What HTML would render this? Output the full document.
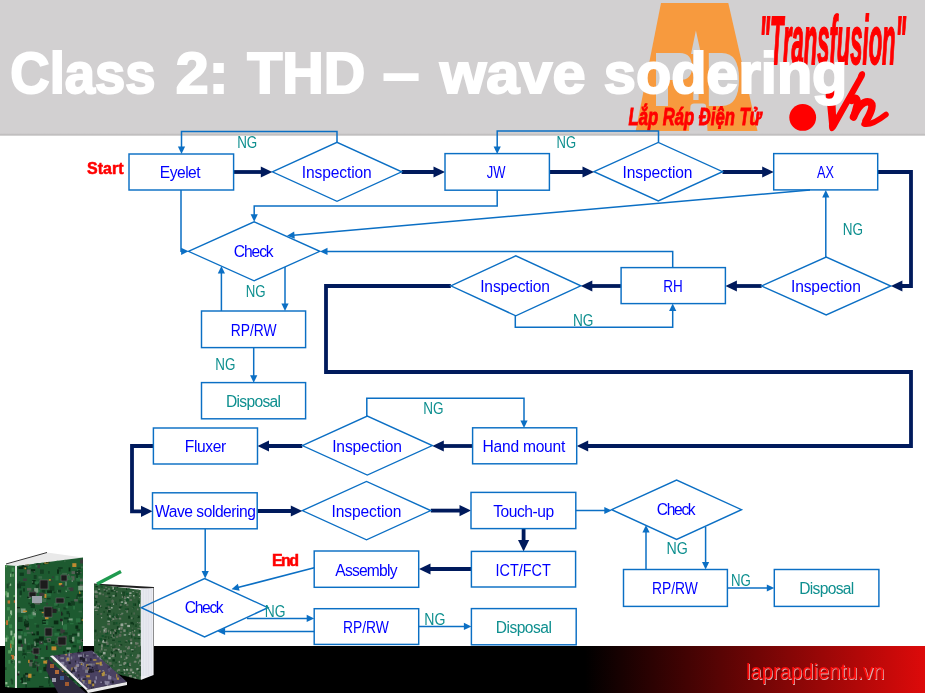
<!DOCTYPE html>
<html><head><meta charset="utf-8"><style>
html,body{margin:0;padding:0;background:#fff;}
body{width:925px;height:693px;position:relative;overflow:hidden;font-family:"Liberation Sans",sans-serif;}
svg{position:absolute;left:0;top:0;will-change:transform;}
svg text{font-family:"Liberation Sans",sans-serif;}
</style></head><body>
<svg width="925" height="693" viewBox="0 0 925 693">
<defs>
<linearGradient id="hb" x1="0" y1="0" x2="0" y2="1">
<stop offset="0" stop-color="#c9c7c8"/><stop offset="0.5" stop-color="#bdbbbb"/><stop offset="1" stop-color="#ffffff"/>
</linearGradient>
<linearGradient id="bb" x1="0" y1="0" x2="1" y2="0">
<stop offset="0" stop-color="#000"/><stop offset="0.6324" stop-color="#000"/><stop offset="1" stop-color="#dd0a0a"/>
</linearGradient>
</defs>

<rect x="0" y="0" width="925" height="134" fill="#d2d0d1"/>
<rect x="0" y="133.5" width="925" height="3" fill="url(#hb)"/>
<g id="logo">
<polygon points="661,3 728.3,3 757.5,131 635.7,131" fill="#f79a3e"/>
<polygon points="695.9,30.5 701,54 698.6,54 698.6,100 693.3,100 693.3,54 691,54" fill="#d0cfd0"/>
<path d="M656,53 L680,53 Q692,53 692,67 Q692,80 680,80 L668,80 L668,106 L656,106 Z" fill="#d0cfd0"/>
<path d="M689,131 L690.5,106 Q691,103.5 694,103.5 L703,103.5 Q706,103.5 706,106 L707.5,131 Z" fill="#d0cfd0"/>
<path d="M708.8,53 L722,53 Q739,53 739,79 Q739,106 722,106 L708.8,106 Z" fill="#d0cfd0"/>
<text x="628.5" y="124.5" fill="#ff0000" stroke="#ff0000" stroke-width="0.9" font-size="24" font-weight="bold" font-style="italic" textLength="133" lengthAdjust="spacingAndGlyphs">Lắp Ráp Điện Tử</text>
<g transform="translate(0,63.8) scale(1,1.11) translate(0,-63.8)"><text x="759.5" y="63.8" fill="#ff0000" stroke="#ff0000" stroke-width="1.6" font-size="62" font-weight="bold" font-style="italic" textLength="146.5" lengthAdjust="spacingAndGlyphs">"Transfusion"</text></g>
<circle cx="802.7" cy="117.4" r="13.4" fill="#ff0000"/>
<path d="M825,90 L835,90 L836,115 L857.5,77 Q859,71 862.5,71 Q866.5,72 864.5,77 L836.5,127 Q834,132 830.5,131 Q828.5,129 829,124 L827,103 Z" fill="#ff0000"/>
<path d="M851.5,101 C853,96.5 858,96.5 857.5,102 L853.5,117" fill="none" stroke="#ff0000" stroke-width="6.5" stroke-linecap="round"/>
<path d="M853.5,117 C858,106 864,100.5 869.5,102 C874,104 872,111 866,121" fill="none" stroke="#ff0000" stroke-width="7.5" stroke-linecap="round"/>
<path d="M864,124 C870,125.5 879,120 886,114.5" fill="none" stroke="#ff0000" stroke-width="5.5" stroke-linecap="round"/>
</g>

<text x="82.95" y="92.90" fill="#ffffff" font-size="57" text-anchor="middle" font-weight="bold" font-style="normal" stroke="#ffffff" stroke-width="2" textLength="145.20" lengthAdjust="spacingAndGlyphs">Class</text>
<text x="202.10" y="92.90" fill="#ffffff" font-size="57" text-anchor="middle" font-weight="bold" font-style="normal" stroke="#ffffff" stroke-width="2" textLength="52.50" lengthAdjust="spacingAndGlyphs">2:</text>
<text x="306.25" y="92.90" fill="#ffffff" font-size="57" text-anchor="middle" font-weight="bold" font-style="normal" stroke="#ffffff" stroke-width="2" textLength="118.20" lengthAdjust="spacingAndGlyphs">THD</text>
<text x="401.00" y="92.90" fill="#ffffff" font-size="57" text-anchor="middle" font-weight="bold" font-style="normal" stroke="#ffffff" stroke-width="2" textLength="36.70" lengthAdjust="spacingAndGlyphs">–</text>
<text x="512.75" y="92.90" fill="#ffffff" font-size="57" text-anchor="middle" font-weight="bold" font-style="normal" stroke="#ffffff" stroke-width="2" textLength="145.60" lengthAdjust="spacingAndGlyphs">wave</text>
<text x="725.60" y="92.90" fill="#ffffff" font-size="57" text-anchor="middle" font-weight="bold" font-style="normal" stroke="#ffffff" stroke-width="2" textLength="243.50" lengthAdjust="spacingAndGlyphs">sodering</text>


<rect x="0" y="646" width="925" height="47" fill="url(#bb)"/><g id="photo">
<defs>
<clipPath id="cbig"><polygon points="17,566 83,557.5 83,687 17,688"/></clipPath>
<clipPath id="cb2"><polygon points="94,584 140.7,590 140.7,680 94,668"/></clipPath>
<clipPath id="cpur"><polygon points="50,656 92,650.5 127,682 86,690"/></clipPath>
<clipPath id="cspine"><polygon points="5,565 17,566 17,688 5,687"/></clipPath>
</defs>
<polygon points="5,565 47,552.5 83,557.5 17,566" fill="#e9e9e9" />
<polyline points="6,564 47,552.5" stroke="#333" stroke-width="1" fill="none"/>
<polygon points="5,565 17,566 17,688 5,687" fill="#2a6b3a" />
<g clip-path="url(#cspine)">
<rect x="8.9" y="583.6" width="2.3" height="2.2" fill="#8fb890"/>
<rect x="6.1" y="636.7" width="2.8" height="2.6" fill="#3e8a4e"/>
<rect x="10.2" y="573.6" width="1.2" height="3.3" fill="#8fb890"/>
<rect x="6.5" y="592.5" width="2.3" height="4.8" fill="#8fb890"/>
<rect x="12.0" y="571.1" width="1.4" height="3.7" fill="#1b4a28"/>
<rect x="8.5" y="582.7" width="1.2" height="2.9" fill="#1b4a28"/>
<rect x="6.2" y="635.3" width="1.4" height="2.3" fill="#3e8a4e"/>
<rect x="11.8" y="641.1" width="2.0" height="3.6" fill="#5aa05e"/>
<rect x="10.6" y="678.6" width="1.7" height="2.7" fill="#1b4a28"/>
<rect x="13.4" y="595.0" width="2.1" height="3.6" fill="#5aa05e"/>
<rect x="13.8" y="600.4" width="3.0" height="2.4" fill="#c07030"/>
<rect x="7.0" y="607.1" width="2.9" height="3.3" fill="#3e8a4e"/>
<rect x="14.2" y="635.5" width="2.8" height="2.9" fill="#5aa05e"/>
<rect x="12.1" y="636.3" width="1.9" height="4.5" fill="#5aa05e"/>
<rect x="10.7" y="646.7" width="1.1" height="4.1" fill="#8fb890"/>
<rect x="16.9" y="666.1" width="1.6" height="3.2" fill="#5aa05e"/>
<rect x="5.3" y="621.8" width="1.3" height="2.4" fill="#3e8a4e"/>
<rect x="7.6" y="600.4" width="2.5" height="3.2" fill="#c07030"/>
<rect x="6.0" y="620.3" width="2.1" height="4.7" fill="#c07030"/>
<rect x="15.4" y="599.2" width="1.8" height="3.1" fill="#c07030"/>
<rect x="16.5" y="583.6" width="1.4" height="2.7" fill="#1b4a28"/>
<rect x="5.1" y="667.2" width="1.4" height="2.8" fill="#1b4a28"/>
<rect x="10.0" y="610.4" width="2.1" height="4.9" fill="#8fb890"/>
<rect x="16.4" y="645.6" width="2.5" height="3.4" fill="#8fb890"/>
<rect x="9.7" y="614.1" width="1.2" height="3.9" fill="#3e8a4e"/>
<rect x="7.3" y="686.1" width="1.9" height="2.3" fill="#8fb890"/>
<rect x="5.6" y="565.0" width="1.3" height="2.3" fill="#5aa05e"/>
<rect x="12.4" y="573.6" width="1.4" height="3.1" fill="#5aa05e"/>
<rect x="16.5" y="639.1" width="1.9" height="2.3" fill="#c07030"/>
<rect x="16.9" y="622.3" width="2.0" height="2.3" fill="#3e8a4e"/>
<rect x="14.0" y="656.1" width="2.0" height="4.1" fill="#8fb890"/>
<rect x="5.3" y="682.0" width="2.1" height="2.4" fill="#8fb890"/>
<rect x="16.0" y="658.3" width="1.6" height="3.9" fill="#3e8a4e"/>
<rect x="13.4" y="597.1" width="1.7" height="2.5" fill="#1b4a28"/>
<rect x="11.4" y="660.8" width="1.7" height="2.7" fill="#1b4a28"/>
<rect x="14.7" y="665.7" width="2.5" height="2.7" fill="#8fb890"/>
<rect x="10.9" y="654.9" width="3.0" height="4.4" fill="#c07030"/>
<rect x="8.1" y="650.2" width="2.9" height="3.3" fill="#5aa05e"/>
<rect x="16.5" y="609.9" width="1.4" height="2.7" fill="#1b4a28"/>
<rect x="9.1" y="624.4" width="3.0" height="3.8" fill="#3e8a4e"/>
<rect x="10.8" y="645.3" width="2.6" height="2.3" fill="#3e8a4e"/>
<rect x="15.9" y="661.2" width="2.5" height="3.4" fill="#1b4a28"/>
<rect x="10.2" y="643.2" width="1.2" height="4.8" fill="#c07030"/>
<rect x="10.6" y="656.4" width="1.2" height="2.5" fill="#1b4a28"/>
<rect x="5.3" y="637.7" width="1.9" height="4.0" fill="#8fb890"/>
<rect x="14.9" y="685.6" width="2.3" height="3.1" fill="#8fb890"/>
<rect x="11.6" y="567.6" width="2.6" height="4.2" fill="#3e8a4e"/>
<rect x="11.3" y="679.8" width="1.9" height="4.6" fill="#1b4a28"/>
<rect x="5.3" y="591.2" width="2.0" height="4.3" fill="#5aa05e"/>
<rect x="8.1" y="616.5" width="1.3" height="4.7" fill="#5aa05e"/>
<rect x="15.8" y="646.5" width="2.6" height="3.6" fill="#8fb890"/>
<rect x="6.6" y="583.7" width="2.0" height="4.6" fill="#1b4a28"/>
<rect x="12.3" y="660.5" width="1.3" height="2.4" fill="#8fb890"/>
<rect x="13.7" y="633.4" width="1.7" height="3.6" fill="#8fb890"/>
<rect x="10.8" y="660.5" width="2.8" height="2.2" fill="#1b4a28"/>
<rect x="8.3" y="660.0" width="2.0" height="3.7" fill="#3e8a4e"/>
<rect x="10.3" y="640.3" width="2.0" height="3.5" fill="#5aa05e"/>
<rect x="10.4" y="630.6" width="2.0" height="4.8" fill="#8fb890"/>
<rect x="15.5" y="680.9" width="1.5" height="3.7" fill="#1b4a28"/>
<rect x="15.1" y="581.9" width="1.2" height="3.3" fill="#3e8a4e"/>
</g>
<polygon points="15,566 17.5,566 17.5,688 15,688" fill="#e8ede8" />
<polygon points="17,566 83,557.5 83,687 17,688" fill="#1d5a30" />
<g clip-path="url(#cbig)">
<rect x="61.3" y="613.1" width="1.9" height="2.2" fill="#143f22"/>
<rect x="76.2" y="577.2" width="3.9" height="3.6" fill="#2a7040"/>
<rect x="33.7" y="575.0" width="2.9" height="4.0" fill="#143f22"/>
<rect x="43.3" y="620.8" width="5.0" height="4.3" fill="#2a7040"/>
<rect x="63.6" y="687.2" width="2.6" height="2.7" fill="#222"/>
<rect x="38.0" y="651.6" width="1.1" height="3.2" fill="#143f22"/>
<rect x="63.4" y="607.3" width="3.1" height="2.2" fill="#143f22"/>
<rect x="24.4" y="677.3" width="1.9" height="4.5" fill="#143f22"/>
<rect x="34.5" y="562.2" width="4.1" height="2.1" fill="#2a7040"/>
<rect x="71.1" y="668.3" width="3.7" height="4.8" fill="#0f3a1e"/>
<rect x="26.9" y="677.4" width="3.3" height="3.8" fill="#143f22"/>
<rect x="35.4" y="661.7" width="1.7" height="4.6" fill="#3a3a3a"/>
<rect x="78.9" y="640.1" width="4.2" height="1.3" fill="#3a6a48"/>
<rect x="31.7" y="591.6" width="1.5" height="1.0" fill="#2a7040"/>
<rect x="44.6" y="676.9" width="3.5" height="1.2" fill="#7a9a80"/>
<rect x="32.7" y="571.3" width="1.6" height="1.2" fill="#0a2a14"/>
<rect x="78.5" y="639.4" width="3.1" height="1.8" fill="#143f22"/>
<rect x="50.0" y="580.3" width="2.4" height="1.1" fill="#3a3a3a"/>
<rect x="19.4" y="559.4" width="3.0" height="4.9" fill="#2a7040"/>
<rect x="48.3" y="679.4" width="1.4" height="4.3" fill="#0f3a1e"/>
<rect x="60.3" y="628.5" width="4.6" height="4.9" fill="#3a3a3a"/>
<rect x="62.4" y="685.7" width="2.4" height="4.3" fill="#7a9a80"/>
<rect x="65.1" y="575.3" width="5.0" height="4.9" fill="#3a6a48"/>
<rect x="25.6" y="566.3" width="4.0" height="2.0" fill="#2a7040"/>
<rect x="20.7" y="644.1" width="2.5" height="3.0" fill="#3a3a3a"/>
<rect x="56.5" y="647.7" width="1.2" height="1.7" fill="#3a3a3a"/>
<rect x="46.4" y="591.5" width="4.8" height="4.9" fill="#2a7040"/>
<rect x="38.4" y="561.5" width="4.5" height="1.9" fill="#2a7040"/>
<rect x="17.1" y="607.0" width="2.9" height="3.0" fill="#0a2a14"/>
<rect x="33.4" y="658.7" width="1.4" height="4.3" fill="#2a7040"/>
<rect x="43.4" y="562.5" width="1.1" height="2.2" fill="#0a2a14"/>
<rect x="22.6" y="682.5" width="4.4" height="1.6" fill="#7a9a80"/>
<rect x="68.7" y="635.1" width="4.1" height="3.9" fill="#143f22"/>
<rect x="26.9" y="651.9" width="3.6" height="1.2" fill="#3a6a48"/>
<rect x="64.2" y="624.2" width="2.7" height="3.8" fill="#2a7040"/>
<rect x="26.2" y="625.6" width="3.0" height="4.3" fill="#555f55"/>
<rect x="18.1" y="646.9" width="4.2" height="3.8" fill="#7a9a80"/>
<rect x="59.4" y="568.1" width="1.2" height="3.5" fill="#143f22"/>
<rect x="41.9" y="616.1" width="1.2" height="1.1" fill="#2a7040"/>
<rect x="61.9" y="621.1" width="1.0" height="4.2" fill="#7a9a80"/>
<rect x="78.5" y="674.6" width="1.4" height="3.1" fill="#7a9a80"/>
<rect x="65.6" y="590.0" width="1.3" height="2.1" fill="#7a9a80"/>
<rect x="66.9" y="587.2" width="3.6" height="2.8" fill="#3a6a48"/>
<rect x="42.2" y="619.8" width="3.7" height="4.1" fill="#0a2a14"/>
<rect x="58.8" y="583.0" width="3.4" height="2.3" fill="#c08a30"/>
<rect x="66.1" y="596.9" width="3.3" height="1.0" fill="#0f3a1e"/>
<rect x="49.1" y="684.4" width="1.4" height="1.9" fill="#143f22"/>
<rect x="36.2" y="624.7" width="2.9" height="2.9" fill="#143f22"/>
<rect x="82.6" y="628.9" width="2.2" height="1.3" fill="#143f22"/>
<rect x="18.2" y="617.1" width="4.3" height="4.9" fill="#143f22"/>
<rect x="82.6" y="607.7" width="4.7" height="4.7" fill="#143f22"/>
<rect x="55.4" y="575.6" width="3.1" height="4.8" fill="#2a7040"/>
<rect x="56.8" y="639.7" width="2.1" height="1.5" fill="#222"/>
<rect x="32.3" y="674.6" width="2.9" height="1.1" fill="#0f3a1e"/>
<rect x="79.7" y="646.3" width="2.6" height="3.9" fill="#0f3a1e"/>
<rect x="39.7" y="598.4" width="4.4" height="1.0" fill="#555f55"/>
<rect x="39.3" y="609.2" width="4.8" height="1.8" fill="#0f3a1e"/>
<rect x="76.5" y="595.0" width="2.5" height="2.6" fill="#3a6a48"/>
<rect x="55.9" y="604.3" width="2.7" height="2.1" fill="#0f3a1e"/>
<rect x="35.5" y="563.8" width="3.6" height="3.5" fill="#2a7040"/>
<rect x="33.5" y="591.8" width="3.0" height="1.8" fill="#222"/>
<rect x="68.8" y="613.0" width="1.1" height="4.0" fill="#0f3a1e"/>
<rect x="77.3" y="680.2" width="3.2" height="3.9" fill="#0f3a1e"/>
<rect x="78.6" y="610.8" width="3.5" height="1.6" fill="#3a6a48"/>
<rect x="35.9" y="563.4" width="4.7" height="1.5" fill="#143f22"/>
<rect x="44.4" y="593.9" width="2.0" height="4.0" fill="#c08a30"/>
<rect x="34.2" y="642.9" width="2.2" height="3.2" fill="#0f3a1e"/>
<rect x="24.9" y="641.3" width="1.3" height="3.0" fill="#555f55"/>
<rect x="49.8" y="585.8" width="4.6" height="5.0" fill="#143f22"/>
<rect x="45.2" y="628.8" width="2.0" height="1.7" fill="#2a7040"/>
<rect x="23.0" y="588.3" width="2.0" height="3.3" fill="#0f3a1e"/>
<rect x="66.5" y="611.1" width="2.7" height="3.1" fill="#0f3a1e"/>
<rect x="34.8" y="655.5" width="3.0" height="3.3" fill="#222"/>
<rect x="25.3" y="622.9" width="3.5" height="4.5" fill="#0a2a14"/>
<rect x="23.1" y="674.5" width="2.5" height="3.6" fill="#0f3a1e"/>
<rect x="80.0" y="668.2" width="4.5" height="1.1" fill="#0f3a1e"/>
<rect x="45.1" y="657.0" width="4.2" height="4.9" fill="#143f22"/>
<rect x="17.0" y="608.3" width="4.7" height="4.3" fill="#3a6a48"/>
<rect x="47.9" y="615.8" width="4.1" height="1.9" fill="#2a7040"/>
<rect x="51.5" y="646.4" width="4.8" height="3.9" fill="#c08a30"/>
<rect x="72.9" y="674.2" width="1.3" height="4.1" fill="#0f3a1e"/>
<rect x="68.6" y="587.5" width="4.7" height="3.6" fill="#3a3a3a"/>
<rect x="80.5" y="639.1" width="3.1" height="2.7" fill="#555f55"/>
<rect x="24.4" y="566.2" width="3.1" height="3.3" fill="#0f3a1e"/>
<rect x="34.2" y="660.6" width="1.0" height="3.1" fill="#143f22"/>
<rect x="35.4" y="598.4" width="4.4" height="2.0" fill="#2a7040"/>
<rect x="32.5" y="589.4" width="4.8" height="3.8" fill="#3a3a3a"/>
<rect x="20.7" y="582.4" width="4.5" height="3.6" fill="#143f22"/>
<rect x="34.0" y="644.4" width="4.7" height="1.9" fill="#0f3a1e"/>
<rect x="62.9" y="651.1" width="2.4" height="2.6" fill="#0f3a1e"/>
<rect x="69.6" y="653.8" width="3.0" height="1.8" fill="#0a2a14"/>
<rect x="37.6" y="664.4" width="1.9" height="1.9" fill="#555f55"/>
<rect x="75.7" y="571.3" width="3.5" height="3.4" fill="#0a2a14"/>
<rect x="49.0" y="676.3" width="1.2" height="3.4" fill="#0f3a1e"/>
<rect x="20.6" y="560.1" width="3.4" height="2.7" fill="#7a9a80"/>
<rect x="21.0" y="608.5" width="4.6" height="4.5" fill="#7a9a80"/>
<rect x="24.5" y="567.4" width="1.7" height="1.8" fill="#c08a30"/>
<rect x="78.8" y="654.8" width="1.1" height="3.7" fill="#0f3a1e"/>
<rect x="72.4" y="686.0" width="2.8" height="1.4" fill="#143f22"/>
<rect x="35.5" y="603.0" width="4.8" height="1.5" fill="#555f55"/>
<rect x="30.7" y="603.7" width="4.3" height="4.3" fill="#0f3a1e"/>
<rect x="22.8" y="649.4" width="1.8" height="3.2" fill="#143f22"/>
<rect x="29.7" y="604.7" width="4.6" height="1.1" fill="#0f3a1e"/>
<rect x="33.4" y="638.9" width="2.6" height="2.5" fill="#143f22"/>
<rect x="21.1" y="677.5" width="2.0" height="4.0" fill="#0a2a14"/>
<rect x="39.4" y="592.7" width="4.8" height="3.5" fill="#3a3a3a"/>
<rect x="66.3" y="647.3" width="4.7" height="2.2" fill="#7a9a80"/>
<rect x="66.9" y="677.1" width="3.5" height="4.8" fill="#0f3a1e"/>
<rect x="71.5" y="571.1" width="3.9" height="2.9" fill="#555f55"/>
<rect x="42.5" y="589.9" width="2.7" height="3.0" fill="#143f22"/>
<rect x="29.1" y="662.1" width="4.0" height="4.3" fill="#555f55"/>
<rect x="27.0" y="587.9" width="4.4" height="2.8" fill="#555f55"/>
<rect x="68.6" y="567.4" width="1.8" height="4.0" fill="#0a2a14"/>
<rect x="43.9" y="642.1" width="2.9" height="3.2" fill="#2a7040"/>
<rect x="81.7" y="672.7" width="5.0" height="2.1" fill="#143f22"/>
<rect x="30.8" y="612.2" width="5.0" height="4.9" fill="#2a7040"/>
<rect x="32.5" y="611.6" width="3.5" height="3.7" fill="#7a9a80"/>
<rect x="52.5" y="658.4" width="4.0" height="4.1" fill="#3a3a3a"/>
<rect x="36.4" y="631.3" width="2.5" height="4.0" fill="#0a2a14"/>
<rect x="46.0" y="581.3" width="1.9" height="2.1" fill="#0a2a14"/>
<rect x="29.4" y="565.5" width="2.0" height="2.0" fill="#2a7040"/>
<rect x="32.3" y="662.9" width="3.6" height="5.0" fill="#143f22"/>
<rect x="17.3" y="672.7" width="1.9" height="2.8" fill="#222"/>
<rect x="19.7" y="595.5" width="1.5" height="1.8" fill="#3a6a48"/>
<rect x="55.5" y="678.9" width="2.5" height="4.5" fill="#143f22"/>
<rect x="56.8" y="658.5" width="3.7" height="1.0" fill="#c08a30"/>
<rect x="56.3" y="638.2" width="1.9" height="2.5" fill="#2a7040"/>
<rect x="19.9" y="688.0" width="1.2" height="3.9" fill="#0a2a14"/>
<rect x="70.8" y="664.3" width="2.6" height="2.5" fill="#0a2a14"/>
<rect x="37.6" y="583.6" width="4.2" height="3.2" fill="#143f22"/>
<rect x="43.9" y="661.3" width="3.7" height="1.6" fill="#2a7040"/>
<rect x="23.0" y="578.4" width="3.8" height="2.6" fill="#3a3a3a"/>
<rect x="61.1" y="611.7" width="1.2" height="4.0" fill="#222"/>
<rect x="44.3" y="559.4" width="4.1" height="4.2" fill="#c08a30"/>
<rect x="30.0" y="652.4" width="1.8" height="1.0" fill="#2a7040"/>
<rect x="45.0" y="664.5" width="2.6" height="4.5" fill="#143f22"/>
<rect x="68.0" y="574.0" width="1.2" height="1.6" fill="#555f55"/>
<rect x="77.0" y="568.7" width="3.5" height="2.5" fill="#2a7040"/>
<rect x="28.3" y="602.6" width="1.6" height="1.7" fill="#143f22"/>
<rect x="24.2" y="621.3" width="4.2" height="4.9" fill="#0a2a14"/>
<rect x="36.9" y="666.7" width="1.2" height="4.7" fill="#222"/>
<rect x="20.5" y="678.3" width="2.6" height="4.6" fill="#0a2a14"/>
<rect x="62.4" y="673.7" width="3.6" height="4.4" fill="#0a2a14"/>
<rect x="43.7" y="667.9" width="4.3" height="1.7" fill="#0a2a14"/>
<rect x="19.8" y="679.9" width="1.6" height="2.4" fill="#2a7040"/>
<rect x="33.3" y="652.0" width="4.6" height="1.2" fill="#2a7040"/>
<rect x="72.6" y="645.1" width="3.7" height="2.3" fill="#0f3a1e"/>
<rect x="56.6" y="629.1" width="3.5" height="2.2" fill="#0f3a1e"/>
<rect x="37.3" y="589.7" width="2.6" height="2.5" fill="#2a7040"/>
<rect x="45.9" y="560.1" width="3.5" height="3.0" fill="#0a2a14"/>
<rect x="46.5" y="638.0" width="4.3" height="4.3" fill="#555f55"/>
<rect x="48.2" y="571.0" width="1.5" height="2.7" fill="#143f22"/>
<rect x="70.0" y="623.1" width="3.6" height="1.2" fill="#2a7040"/>
<rect x="22.4" y="653.1" width="4.1" height="3.0" fill="#0f3a1e"/>
<rect x="66.6" y="674.2" width="3.6" height="4.1" fill="#0f3a1e"/>
<rect x="73.6" y="687.5" width="3.9" height="4.3" fill="#0a2a14"/>
<rect x="25.7" y="673.0" width="2.2" height="4.2" fill="#555f55"/>
<rect x="27.9" y="660.3" width="4.7" height="1.3" fill="#222"/>
<rect x="57.3" y="590.0" width="2.3" height="3.5" fill="#3a6a48"/>
<rect x="47.1" y="590.3" width="4.9" height="2.9" fill="#0a2a14"/>
<rect x="34.3" y="623.3" width="2.3" height="1.1" fill="#2a7040"/>
<rect x="43.6" y="640.4" width="2.1" height="2.3" fill="#0f3a1e"/>
<rect x="28.1" y="659.8" width="1.5" height="3.1" fill="#c08a30"/>
<rect x="73.6" y="683.6" width="2.8" height="3.1" fill="#7a9a80"/>
<rect x="75.2" y="570.7" width="5.0" height="3.5" fill="#0f3a1e"/>
<rect x="65.7" y="605.7" width="2.5" height="2.5" fill="#2a7040"/>
<rect x="40.8" y="657.2" width="2.8" height="1.7" fill="#7a9a80"/>
<rect x="80.2" y="595.8" width="3.1" height="2.2" fill="#3a6a48"/>
<rect x="55.7" y="643.9" width="2.3" height="1.0" fill="#0f3a1e"/>
<rect x="31.6" y="595.1" width="3.5" height="2.7" fill="#222"/>
<rect x="76.1" y="574.3" width="1.9" height="3.6" fill="#0f3a1e"/>
<rect x="20.6" y="631.3" width="2.2" height="3.1" fill="#2a7040"/>
<rect x="31.8" y="633.5" width="3.4" height="1.8" fill="#0a2a14"/>
<rect x="71.7" y="577.8" width="1.1" height="4.2" fill="#7a9a80"/>
<rect x="26.9" y="569.6" width="3.6" height="4.5" fill="#555f55"/>
<rect x="34.8" y="663.3" width="4.9" height="1.2" fill="#3a6a48"/>
<rect x="54.1" y="602.9" width="3.6" height="2.8" fill="#2a7040"/>
<rect x="65.4" y="589.6" width="4.6" height="1.2" fill="#2a7040"/>
<rect x="18.7" y="581.3" width="1.6" height="4.6" fill="#143f22"/>
<rect x="17.8" y="629.2" width="4.8" height="1.6" fill="#0a2a14"/>
<rect x="51.2" y="641.2" width="3.6" height="2.7" fill="#0a2a14"/>
<rect x="28.5" y="597.5" width="2.2" height="1.2" fill="#7a9a80"/>
<rect x="68.7" y="650.7" width="1.0" height="4.4" fill="#7a9a80"/>
<rect x="77.2" y="567.5" width="3.6" height="1.7" fill="#143f22"/>
<rect x="34.3" y="641.4" width="1.5" height="4.6" fill="#7a9a80"/>
<rect x="79.2" y="591.5" width="1.2" height="3.5" fill="#c08a30"/>
<rect x="45.8" y="660.3" width="3.1" height="2.1" fill="#c08a30"/>
<rect x="78.3" y="674.1" width="1.3" height="3.0" fill="#2a7040"/>
<rect x="34.2" y="587.9" width="4.0" height="4.8" fill="#7a9a80"/>
<rect x="77.4" y="582.1" width="2.6" height="3.4" fill="#0f3a1e"/>
<rect x="76.9" y="639.6" width="3.8" height="3.7" fill="#2a7040"/>
<rect x="48.0" y="667.0" width="3.8" height="4.4" fill="#0f3a1e"/>
<rect x="80.1" y="587.6" width="4.5" height="4.2" fill="#0f3a1e"/>
<rect x="58.1" y="567.2" width="4.6" height="1.6" fill="#0f3a1e"/>
<rect x="24.4" y="638.5" width="1.6" height="4.9" fill="#7a9a80"/>
<rect x="18.9" y="562.5" width="3.8" height="3.5" fill="#7a9a80"/>
<rect x="21.5" y="563.1" width="4.4" height="4.0" fill="#0a2a14"/>
<rect x="71.0" y="664.4" width="4.6" height="1.3" fill="#3a6a48"/>
<rect x="66.9" y="650.2" width="2.5" height="2.0" fill="#0a2a14"/>
<rect x="24.4" y="561.5" width="4.4" height="4.2" fill="#c08a30"/>
<rect x="22.8" y="655.4" width="3.5" height="2.9" fill="#2a7040"/>
<rect x="23.5" y="656.2" width="1.8" height="2.3" fill="#0f3a1e"/>
<rect x="34.2" y="603.0" width="4.7" height="1.2" fill="#555f55"/>
<rect x="41.3" y="599.0" width="4.9" height="3.0" fill="#3a6a48"/>
<rect x="36.0" y="654.7" width="4.2" height="1.1" fill="#2a7040"/>
<rect x="68.0" y="602.4" width="3.8" height="3.2" fill="#0a2a14"/>
<rect x="64.1" y="665.4" width="3.3" height="2.1" fill="#0f3a1e"/>
<rect x="17.1" y="583.5" width="4.0" height="4.9" fill="#0f3a1e"/>
<rect x="40.0" y="569.5" width="3.8" height="4.3" fill="#143f22"/>
<rect x="56.1" y="682.4" width="3.1" height="3.3" fill="#2a7040"/>
<rect x="35.7" y="585.1" width="3.8" height="3.0" fill="#143f22"/>
<rect x="79.0" y="657.5" width="3.0" height="5.0" fill="#2a7040"/>
<rect x="68.9" y="639.3" width="2.4" height="2.6" fill="#0f3a1e"/>
<rect x="75.9" y="654.6" width="2.7" height="3.6" fill="#222"/>
<rect x="30.6" y="591.5" width="4.6" height="3.0" fill="#0f3a1e"/>
<rect x="81.8" y="639.6" width="4.8" height="1.5" fill="#0a2a14"/>
<rect x="66.8" y="655.6" width="3.6" height="2.4" fill="#222"/>
<rect x="51.4" y="670.7" width="2.8" height="3.2" fill="#222"/>
<rect x="28.2" y="614.5" width="4.1" height="3.3" fill="#2a7040"/>
<rect x="39.0" y="641.2" width="3.8" height="3.0" fill="#3a3a3a"/>
<rect x="36.9" y="649.1" width="4.4" height="1.6" fill="#2a7040"/>
<rect x="81.3" y="651.7" width="3.4" height="2.4" fill="#0a2a14"/>
<rect x="38.7" y="581.8" width="4.9" height="3.9" fill="#143f22"/>
<rect x="27.9" y="643.2" width="1.8" height="1.6" fill="#2a7040"/>
<rect x="69.5" y="653.1" width="2.7" height="1.8" fill="#c08a30"/>
<rect x="77.2" y="593.8" width="4.5" height="2.9" fill="#0f3a1e"/>
<rect x="43.3" y="660.6" width="3.8" height="3.0" fill="#c08a30"/>
<rect x="36.6" y="559.9" width="2.0" height="4.0" fill="#0f3a1e"/>
<rect x="65.9" y="675.9" width="2.7" height="3.3" fill="#7a9a80"/>
<rect x="59.7" y="667.8" width="3.7" height="3.6" fill="#555f55"/>
<rect x="59.4" y="633.5" width="1.9" height="1.7" fill="#143f22"/>
<rect x="47.0" y="598.0" width="3.5" height="1.4" fill="#0f3a1e"/>
<rect x="33.0" y="609.4" width="3.9" height="1.6" fill="#3a6a48"/>
<rect x="45.0" y="616.6" width="3.5" height="2.6" fill="#c08a30"/>
<rect x="60.6" y="671.4" width="4.6" height="2.3" fill="#0f3a1e"/>
<rect x="42.7" y="621.2" width="4.9" height="1.2" fill="#2a7040"/>
<rect x="31.4" y="650.8" width="4.8" height="1.8" fill="#222"/>
<rect x="23.7" y="632.3" width="3.2" height="3.9" fill="#2a7040"/>
<rect x="18.1" y="660.8" width="2.5" height="2.4" fill="#7a9a80"/>
<rect x="79.6" y="584.5" width="3.7" height="2.6" fill="#555f55"/>
<rect x="78.6" y="652.5" width="3.5" height="3.6" fill="#3a3a3a"/>
<rect x="35.1" y="609.4" width="1.1" height="2.7" fill="#0f3a1e"/>
<rect x="58.5" y="645.4" width="3.3" height="1.4" fill="#3a3a3a"/>
<rect x="65.9" y="680.1" width="3.1" height="1.9" fill="#555f55"/>
<rect x="80.4" y="617.5" width="1.7" height="4.7" fill="#143f22"/>
<rect x="70.4" y="640.1" width="2.9" height="3.2" fill="#0a2a14"/>
<rect x="70.8" y="576.2" width="3.7" height="4.3" fill="#555f55"/>
<rect x="70.9" y="618.3" width="2.2" height="3.2" fill="#2a7040"/>
<rect x="68.5" y="618.5" width="4.1" height="1.9" fill="#7a9a80"/>
<rect x="41.8" y="590.2" width="2.7" height="1.7" fill="#0f3a1e"/>
<rect x="70.2" y="661.7" width="2.4" height="3.6" fill="#222"/>
<rect x="48.7" y="613.1" width="3.5" height="3.6" fill="#222"/>
<rect x="27.1" y="596.7" width="2.5" height="1.3" fill="#0a2a14"/>
<rect x="76.8" y="659.7" width="1.6" height="4.3" fill="#c08a30"/>
<rect x="55.4" y="643.1" width="1.8" height="1.3" fill="#3a3a3a"/>
<rect x="33.5" y="570.3" width="1.6" height="1.9" fill="#555f55"/>
<rect x="46.8" y="659.8" width="1.8" height="2.6" fill="#2a7040"/>
<rect x="28.1" y="673.7" width="3.4" height="4.1" fill="#c08a30"/>
<rect x="76.5" y="628.9" width="3.5" height="2.2" fill="#143f22"/>
<rect x="62.7" y="626.5" width="4.0" height="2.8" fill="#143f22"/>
<rect x="53.6" y="591.6" width="1.9" height="1.6" fill="#143f22"/>
<rect x="53.8" y="620.5" width="4.6" height="3.8" fill="#0a2a14"/>
<rect x="49.9" y="627.7" width="4.5" height="1.0" fill="#3a6a48"/>
<rect x="38.2" y="648.2" width="3.0" height="2.2" fill="#143f22"/>
<rect x="41.7" y="611.9" width="4.8" height="1.3" fill="#c08a30"/>
<rect x="40.8" y="641.7" width="1.1" height="1.2" fill="#7a9a80"/>
<rect x="78.5" y="600.3" width="4.9" height="3.0" fill="#143f22"/>
<rect x="67.0" y="575.9" width="1.9" height="2.7" fill="#2a7040"/>
<rect x="39.3" y="669.9" width="2.5" height="2.9" fill="#2a7040"/>
<rect x="53.6" y="676.5" width="2.1" height="2.4" fill="#3a3a3a"/>
<rect x="53.6" y="665.3" width="2.2" height="4.3" fill="#0f3a1e"/>
<rect x="39.0" y="685.9" width="4.5" height="2.4" fill="#0a2a14"/>
<rect x="60.2" y="660.7" width="2.3" height="2.3" fill="#3a3a3a"/>
<rect x="25.4" y="684.4" width="1.4" height="5.0" fill="#0f3a1e"/>
<rect x="64.7" y="673.0" width="3.2" height="1.2" fill="#3a3a3a"/>
<rect x="24.2" y="563.1" width="4.3" height="2.9" fill="#555f55"/>
<rect x="60.4" y="660.4" width="4.6" height="3.4" fill="#0a2a14"/>
<rect x="26.7" y="645.3" width="3.8" height="4.5" fill="#143f22"/>
<rect x="31.0" y="644.4" width="2.8" height="4.1" fill="#143f22"/>
<rect x="60.8" y="670.9" width="2.7" height="1.4" fill="#c08a30"/>
<rect x="17.9" y="671.2" width="1.6" height="2.2" fill="#7a9a80"/>
<rect x="34.0" y="596.6" width="2.7" height="2.3" fill="#0f3a1e"/>
<rect x="54.4" y="632.8" width="4.7" height="3.0" fill="#2a7040"/>
<rect x="19.6" y="572.6" width="4.2" height="3.3" fill="#0f3a1e"/>
<rect x="46.5" y="558.9" width="2.5" height="3.4" fill="#c08a30"/>
<rect x="81.7" y="619.3" width="2.6" height="1.4" fill="#c08a30"/>
<rect x="48.2" y="674.3" width="3.5" height="2.7" fill="#0f3a1e"/>
<rect x="62.1" y="572.9" width="4.9" height="1.4" fill="#3a6a48"/>
<rect x="25.0" y="618.9" width="2.1" height="3.3" fill="#143f22"/>
<rect x="65.4" y="581.6" width="1.2" height="4.1" fill="#7a9a80"/>
<rect x="62.9" y="576.0" width="4.0" height="2.2" fill="#2a7040"/>
<rect x="63.8" y="617.3" width="4.7" height="2.0" fill="#0f3a1e"/>
<rect x="64.3" y="558.5" width="1.1" height="3.6" fill="#3a6a48"/>
<rect x="57.8" y="608.0" width="2.2" height="3.4" fill="#3a6a48"/>
<rect x="72.1" y="636.8" width="2.3" height="4.8" fill="#7a9a80"/>
<rect x="46.0" y="645.7" width="1.6" height="4.2" fill="#222"/>
<rect x="80.0" y="578.5" width="4.2" height="2.9" fill="#555f55"/>
<rect x="68.9" y="680.8" width="4.1" height="3.3" fill="#3a3a3a"/>
<rect x="35.5" y="638.5" width="3.6" height="4.2" fill="#0a2a14"/>
<rect x="38.9" y="636.4" width="4.9" height="4.3" fill="#0a2a14"/>
<rect x="72.0" y="633.6" width="4.9" height="2.0" fill="#0f3a1e"/>
<rect x="62.2" y="635.8" width="4.6" height="4.2" fill="#3a3a3a"/>
<rect x="62.4" y="599.1" width="2.1" height="1.6" fill="#3a6a48"/>
<rect x="67.4" y="659.6" width="2.2" height="1.6" fill="#3a6a48"/>
<rect x="82.5" y="576.3" width="4.9" height="4.2" fill="#2a7040"/>
<rect x="62.2" y="676.7" width="2.4" height="1.3" fill="#2a7040"/>
<rect x="49.0" y="607.0" width="4.2" height="3.9" fill="#0a2a14"/>
<rect x="37.4" y="564.5" width="2.6" height="3.8" fill="#3a3a3a"/>
<rect x="55.7" y="558.2" width="2.5" height="3.2" fill="#2a7040"/>
<rect x="70.2" y="658.2" width="1.9" height="3.3" fill="#3a3a3a"/>
<rect x="75.4" y="625.4" width="2.9" height="3.4" fill="#0a2a14"/>
<rect x="31.0" y="569.1" width="4.2" height="2.2" fill="#0a2a14"/>
<rect x="54.3" y="609.7" width="3.1" height="1.6" fill="#0f3a1e"/>
<rect x="77.9" y="621.6" width="4.5" height="2.5" fill="#143f22"/>
<rect x="69.0" y="577.5" width="3.4" height="2.4" fill="#2a7040"/>
<rect x="57.1" y="569.3" width="1.8" height="4.5" fill="#0a2a14"/>
<rect x="49.1" y="631.3" width="2.0" height="4.1" fill="#0f3a1e"/>
<rect x="23.4" y="615.5" width="3.4" height="3.4" fill="#2a7040"/>
<rect x="33.8" y="562.0" width="1.8" height="1.7" fill="#143f22"/>
<rect x="18.8" y="561.6" width="2.5" height="3.8" fill="#143f22"/>
<rect x="79.5" y="676.2" width="1.3" height="3.4" fill="#0f3a1e"/>
<rect x="77.9" y="649.5" width="1.4" height="2.3" fill="#0a2a14"/>
<rect x="59.3" y="682.3" width="3.7" height="2.6" fill="#143f22"/>
<rect x="73.1" y="605.6" width="1.9" height="3.9" fill="#2a7040"/>
<rect x="19.5" y="590.5" width="2.4" height="4.6" fill="#0f3a1e"/>
<rect x="72.3" y="563.2" width="4.1" height="3.8" fill="#c08a30"/>
<rect x="67.3" y="620.3" width="1.4" height="2.3" fill="#0f3a1e"/>
<rect x="79.0" y="645.7" width="2.2" height="3.4" fill="#555f55"/>
<rect x="60.1" y="618.7" width="2.5" height="2.6" fill="#222"/>
<rect x="48.8" y="579.1" width="2.0" height="1.6" fill="#c08a30"/>
<rect x="75.9" y="618.3" width="4.7" height="4.2" fill="#2a7040"/>
<rect x="78.2" y="585.9" width="4.7" height="4.5" fill="#7a9a80"/>
<rect x="26.2" y="615.6" width="1.4" height="4.7" fill="#3a6a48"/>
<rect x="18.4" y="566.8" width="4.9" height="2.3" fill="#0a2a14"/>
<rect x="48.5" y="639.3" width="1.6" height="1.9" fill="#0f3a1e"/>
<rect x="28.9" y="616.1" width="4.6" height="2.8" fill="#2a7040"/>
<rect x="34.6" y="610.9" width="1.6" height="2.1" fill="#3a6a48"/>
<rect x="36.6" y="662.3" width="2.0" height="1.4" fill="#143f22"/>
<rect x="76.6" y="572.0" width="4.9" height="1.2" fill="#555f55"/>
<rect x="61.1" y="584.7" width="2.9" height="2.1" fill="#3a3a3a"/>
<rect x="66.8" y="684.2" width="2.7" height="2.0" fill="#0a2a14"/>
<rect x="78.1" y="569.8" width="2.2" height="4.6" fill="#0f3a1e"/>
<rect x="71.9" y="685.2" width="1.6" height="3.6" fill="#143f22"/>
<rect x="70.3" y="601.7" width="1.6" height="1.0" fill="#3a6a48"/>
<rect x="79.3" y="594.5" width="2.4" height="1.2" fill="#0f3a1e"/>
<rect x="31.4" y="631.8" width="1.6" height="1.7" fill="#555f55"/>
<rect x="32.2" y="580.0" width="3.4" height="4.3" fill="#0a2a14"/>
<rect x="65.2" y="656.7" width="1.7" height="1.5" fill="#c08a30"/>
<rect x="63.7" y="663.3" width="3.3" height="1.8" fill="#143f22"/>
<rect x="62.7" y="625.1" width="4.4" height="4.7" fill="#2a7040"/>
<rect x="70.5" y="600.9" width="4.4" height="4.5" fill="#143f22"/>
<rect x="23.0" y="610.6" width="4.1" height="1.5" fill="#c08a30"/>
<rect x="34.6" y="581.4" width="4.3" height="2.5" fill="#2a7040"/>
<rect x="63.3" y="632.3" width="4.4" height="2.4" fill="#143f22"/>
<rect x="80.9" y="566.3" width="2.4" height="2.0" fill="#3a6a48"/>
<rect x="74.1" y="599.0" width="3.8" height="2.5" fill="#555f55"/>
<rect x="76.3" y="595.2" width="1.4" height="3.9" fill="#143f22"/>
<rect x="50.9" y="626.5" width="3.1" height="1.1" fill="#143f22"/>
<rect x="31.8" y="580.9" width="1.4" height="2.0" fill="#3a6a48"/>
<rect x="80.1" y="559.5" width="4.7" height="4.0" fill="#3a3a3a"/>
<rect x="18.2" y="635.5" width="3.3" height="3.1" fill="#7a9a80"/>
<rect x="46.3" y="602.9" width="1.4" height="1.7" fill="#3a3a3a"/>
<rect x="25.1" y="621.7" width="3.0" height="2.1" fill="#143f22"/>
<rect x="25.0" y="672.9" width="3.2" height="1.9" fill="#0a2a14"/>
<rect x="26.7" y="632.0" width="4.0" height="1.7" fill="#3a6a48"/>
<rect x="18.2" y="640.2" width="3.8" height="3.4" fill="#0a2a14"/>
<rect x="51.7" y="608.8" width="4.8" height="4.1" fill="#222"/>
<rect x="43.4" y="666.9" width="3.9" height="4.4" fill="#0a2a14"/>
<rect x="70.1" y="676.6" width="4.3" height="4.4" fill="#0f3a1e"/>
<rect x="38.4" y="576.2" width="3.7" height="2.4" fill="#3a6a48"/>
<rect x="44.9" y="639.9" width="2.5" height="3.1" fill="#143f22"/>
<rect x="38.4" y="583.3" width="3.7" height="1.9" fill="#0f3a1e"/>
<rect x="81.0" y="658.7" width="4.7" height="3.5" fill="#555f55"/>
<rect x="81.7" y="684.5" width="1.2" height="4.5" fill="#0a2a14"/>
<rect x="34.5" y="645.9" width="2.1" height="3.2" fill="#0f3a1e"/>
<rect x="58.0" y="589.8" width="3.1" height="2.7" fill="#0f3a1e"/>
<rect x="36.0" y="597.0" width="3.6" height="1.5" fill="#0a2a14"/>
<rect x="80.3" y="677.7" width="4.6" height="1.3" fill="#0a2a14"/>
<rect x="52.2" y="576.4" width="1.5" height="1.5" fill="#3a3a3a"/>
<rect x="77.4" y="632.6" width="2.1" height="3.9" fill="#7a9a80"/>
</g>
<rect x="40" y="580" width="8" height="9" fill="#1c1c1c" stroke="#6a6a6a" stroke-width="0.6"/>
<rect x="29" y="592" width="7" height="5" fill="#1c1c1c" stroke="#6a6a6a" stroke-width="0.6"/>
<rect x="44" y="607" width="8" height="10" fill="#1c1c1c" stroke="#6a6a6a" stroke-width="0.6"/>
<rect x="45" y="628" width="7" height="8" fill="#1c1c1c" stroke="#6a6a6a" stroke-width="0.6"/>
<rect x="58" y="637" width="8" height="8" fill="#1c1c1c" stroke="#6a6a6a" stroke-width="0.6"/>
<rect x="56" y="598" width="8" height="5" fill="#1c1c1c" stroke="#6a6a6a" stroke-width="0.6"/>
<rect x="33" y="648" width="6" height="6" fill="#1c1c1c" stroke="#6a6a6a" stroke-width="0.6"/>
<rect x="61" y="575" width="6" height="6" fill="#1c1c1c" stroke="#6a6a6a" stroke-width="0.6"/>
<rect x="32" y="596" width="10" height="7" fill="#9aa0a8"/>
<polygon points="94,583.5 153.8,587 153.8,589 94,585.5" fill="#202020" />
<polygon points="152.5,587 154,587 154,675 152.5,675.5" fill="#2a2a2a" />
<polygon points="140.7,589 153.5,588 153.5,675 140.7,680" fill="#eeeff4" />
<g stroke="#c8cad8" stroke-width="0.4"><line x1="142.0" y1="589" x2="142.0" y2="676"/><line x1="143.6" y1="589" x2="143.6" y2="676"/><line x1="145.2" y1="589" x2="145.2" y2="676"/><line x1="146.8" y1="589" x2="146.8" y2="676"/><line x1="148.4" y1="589" x2="148.4" y2="676"/><line x1="150.0" y1="589" x2="150.0" y2="676"/><line x1="151.6" y1="589" x2="151.6" y2="676"/></g>
<polygon points="94,584 140.7,590 140.7,680 94,668" fill="#2c5a36" />
<g clip-path="url(#cb2)">
<rect x="119.7" y="664.6" width="2.1" height="2.1" fill="#14502a"/>
<rect x="103.5" y="652.2" width="1.8" height="2.0" fill="#6a7868"/>
<rect x="116.0" y="613.8" width="1.3" height="1.3" fill="#14502a"/>
<rect x="139.6" y="622.1" width="2.8" height="1.2" fill="#9aa89a"/>
<rect x="109.2" y="615.2" width="1.4" height="2.7" fill="#9aa89a"/>
<rect x="107.9" y="658.1" width="1.1" height="0.9" fill="#0f3a1c"/>
<rect x="114.7" y="590.0" width="1.7" height="1.8" fill="#1a4a26"/>
<rect x="118.5" y="679.0" width="2.3" height="2.9" fill="#14502a"/>
<rect x="109.8" y="617.8" width="2.3" height="2.2" fill="#2f5a38"/>
<rect x="132.6" y="633.7" width="2.4" height="2.4" fill="#6a7868"/>
<rect x="106.6" y="644.5" width="2.2" height="2.3" fill="#14502a"/>
<rect x="134.9" y="584.4" width="2.5" height="2.1" fill="#6a7868"/>
<rect x="112.7" y="679.3" width="1.1" height="2.7" fill="#2f5a38"/>
<rect x="135.0" y="642.3" width="1.6" height="1.8" fill="#6a7868"/>
<rect x="107.5" y="617.9" width="1.6" height="2.0" fill="#14502a"/>
<rect x="124.5" y="584.6" width="2.4" height="3.0" fill="#14502a"/>
<rect x="114.9" y="601.7" width="1.5" height="1.1" fill="#14502a"/>
<rect x="121.3" y="592.4" width="2.8" height="1.5" fill="#9aa89a"/>
<rect x="139.1" y="603.6" width="1.7" height="2.8" fill="#7a8a78"/>
<rect x="95.2" y="608.6" width="2.8" height="1.5" fill="#2f5a38"/>
<rect x="119.3" y="679.8" width="1.9" height="1.9" fill="#14502a"/>
<rect x="112.3" y="618.3" width="2.1" height="1.6" fill="#7a8a78"/>
<rect x="125.8" y="634.4" width="1.0" height="1.6" fill="#14502a"/>
<rect x="124.5" y="673.1" width="1.1" height="1.2" fill="#14502a"/>
<rect x="116.9" y="626.3" width="2.2" height="3.0" fill="#0f3a1c"/>
<rect x="126.5" y="655.7" width="1.0" height="1.6" fill="#0f3a1c"/>
<rect x="140.0" y="663.3" width="1.9" height="1.0" fill="#2f5a38"/>
<rect x="126.4" y="662.8" width="3.0" height="2.8" fill="#14502a"/>
<rect x="123.7" y="634.3" width="2.6" height="1.3" fill="#9aa89a"/>
<rect x="113.4" y="589.8" width="2.0" height="1.0" fill="#7a8a78"/>
<rect x="126.5" y="585.0" width="0.8" height="2.4" fill="#7a8a78"/>
<rect x="137.1" y="622.2" width="1.0" height="0.8" fill="#7a8a78"/>
<rect x="103.2" y="631.8" width="2.0" height="1.4" fill="#5a6a58"/>
<rect x="121.0" y="623.5" width="1.1" height="1.1" fill="#1a4a26"/>
<rect x="95.4" y="591.3" width="2.9" height="1.9" fill="#6a7868"/>
<rect x="122.8" y="661.4" width="0.9" height="0.8" fill="#0f3a1c"/>
<rect x="100.8" y="606.9" width="1.4" height="0.9" fill="#1a4a26"/>
<rect x="134.4" y="675.0" width="0.9" height="1.2" fill="#14502a"/>
<rect x="94.9" y="605.1" width="1.7" height="2.5" fill="#7a8a78"/>
<rect x="114.7" y="643.5" width="1.3" height="0.9" fill="#5a6a58"/>
<rect x="108.8" y="670.3" width="2.6" height="1.5" fill="#2f5a38"/>
<rect x="139.1" y="631.6" width="2.9" height="1.3" fill="#14502a"/>
<rect x="125.7" y="640.1" width="1.7" height="1.7" fill="#6a7868"/>
<rect x="95.1" y="667.3" width="1.0" height="1.2" fill="#14502a"/>
<rect x="102.8" y="677.3" width="1.4" height="2.0" fill="#1a4a26"/>
<rect x="109.7" y="667.7" width="1.5" height="2.2" fill="#1a4a26"/>
<rect x="113.8" y="671.6" width="2.0" height="1.7" fill="#6a7868"/>
<rect x="107.3" y="606.8" width="0.9" height="2.3" fill="#0f3a1c"/>
<rect x="131.8" y="607.2" width="1.1" height="1.2" fill="#5a6a58"/>
<rect x="120.1" y="628.8" width="2.5" height="1.3" fill="#0f3a1c"/>
<rect x="110.6" y="653.4" width="1.6" height="2.9" fill="#9aa89a"/>
<rect x="108.0" y="629.7" width="1.2" height="2.7" fill="#5a6a58"/>
<rect x="138.3" y="679.8" width="2.1" height="1.8" fill="#0f3a1c"/>
<rect x="119.1" y="622.8" width="1.9" height="1.1" fill="#1a4a26"/>
<rect x="125.9" y="592.8" width="2.7" height="2.4" fill="#14502a"/>
<rect x="95.3" y="652.9" width="1.1" height="0.8" fill="#1a4a26"/>
<rect x="126.6" y="658.5" width="1.3" height="1.2" fill="#1a4a26"/>
<rect x="97.2" y="671.7" width="2.6" height="2.5" fill="#9aa89a"/>
<rect x="97.1" y="613.9" width="1.3" height="1.1" fill="#14502a"/>
<rect x="107.3" y="622.7" width="2.8" height="2.5" fill="#5a6a58"/>
<rect x="138.0" y="600.9" width="1.6" height="2.6" fill="#0f3a1c"/>
<rect x="136.2" y="586.4" width="2.3" height="1.8" fill="#14502a"/>
<rect x="110.5" y="644.4" width="1.2" height="1.1" fill="#9aa89a"/>
<rect x="127.5" y="587.9" width="0.9" height="1.2" fill="#9aa89a"/>
<rect x="129.6" y="599.0" width="2.4" height="2.0" fill="#5a6a58"/>
<rect x="120.5" y="605.9" width="1.9" height="1.9" fill="#14502a"/>
<rect x="125.5" y="639.2" width="2.9" height="1.0" fill="#2f5a38"/>
<rect x="136.4" y="668.0" width="2.1" height="2.3" fill="#9aa89a"/>
<rect x="126.0" y="587.6" width="1.5" height="2.5" fill="#0f3a1c"/>
<rect x="129.2" y="592.3" width="2.3" height="1.7" fill="#9aa89a"/>
<rect x="107.2" y="592.6" width="2.9" height="1.7" fill="#0f3a1c"/>
<rect x="126.5" y="654.9" width="2.6" height="2.2" fill="#6a7868"/>
<rect x="117.9" y="649.0" width="1.3" height="2.3" fill="#5a6a58"/>
<rect x="117.0" y="602.2" width="2.9" height="2.6" fill="#2f5a38"/>
<rect x="102.2" y="599.7" width="2.5" height="1.3" fill="#2f5a38"/>
<rect x="105.7" y="589.7" width="1.6" height="1.7" fill="#9aa89a"/>
<rect x="123.9" y="597.2" width="2.3" height="1.9" fill="#6a7868"/>
<rect x="105.2" y="607.2" width="1.9" height="1.8" fill="#0f3a1c"/>
<rect x="126.8" y="596.8" width="2.4" height="2.1" fill="#9aa89a"/>
<rect x="109.7" y="662.3" width="2.0" height="2.5" fill="#5a6a58"/>
<rect x="125.8" y="598.9" width="3.0" height="2.6" fill="#14502a"/>
<rect x="133.1" y="595.0" width="1.4" height="1.6" fill="#9aa89a"/>
<rect x="96.0" y="670.0" width="1.5" height="1.0" fill="#2f5a38"/>
<rect x="115.1" y="594.8" width="1.5" height="1.8" fill="#0f3a1c"/>
<rect x="107.6" y="637.5" width="0.9" height="1.8" fill="#6a7868"/>
<rect x="97.9" y="652.8" width="3.0" height="2.0" fill="#1a4a26"/>
<rect x="124.3" y="675.8" width="1.9" height="2.5" fill="#0f3a1c"/>
<rect x="94.4" y="672.3" width="2.2" height="2.2" fill="#2f5a38"/>
<rect x="124.7" y="591.5" width="2.4" height="0.9" fill="#14502a"/>
<rect x="133.5" y="612.4" width="1.2" height="2.2" fill="#5a6a58"/>
<rect x="98.8" y="653.0" width="1.5" height="2.2" fill="#14502a"/>
<rect x="102.7" y="663.2" width="1.5" height="1.6" fill="#0f3a1c"/>
<rect x="133.4" y="608.3" width="0.9" height="1.0" fill="#14502a"/>
<rect x="136.5" y="674.7" width="1.9" height="1.9" fill="#5a6a58"/>
<rect x="140.8" y="641.9" width="2.2" height="1.1" fill="#9aa89a"/>
<rect x="101.7" y="626.5" width="2.9" height="1.0" fill="#7a8a78"/>
<rect x="134.0" y="630.0" width="1.3" height="1.6" fill="#7a8a78"/>
<rect x="133.5" y="666.1" width="2.5" height="1.7" fill="#2f5a38"/>
<rect x="97.4" y="589.3" width="2.4" height="2.8" fill="#1a4a26"/>
<rect x="114.6" y="647.9" width="2.6" height="2.8" fill="#5a6a58"/>
<rect x="111.8" y="584.4" width="2.6" height="2.3" fill="#9aa89a"/>
<rect x="116.0" y="636.1" width="1.9" height="1.7" fill="#5a6a58"/>
<rect x="139.8" y="676.3" width="2.2" height="2.6" fill="#7a8a78"/>
<rect x="128.0" y="615.8" width="2.2" height="2.0" fill="#14502a"/>
<rect x="138.8" y="630.2" width="2.2" height="1.5" fill="#0f3a1c"/>
<rect x="118.9" y="644.8" width="2.7" height="1.3" fill="#6a7868"/>
<rect x="126.5" y="598.1" width="2.1" height="2.0" fill="#14502a"/>
<rect x="110.9" y="607.1" width="1.8" height="1.4" fill="#9aa89a"/>
<rect x="102.5" y="669.4" width="2.0" height="1.0" fill="#2f5a38"/>
<rect x="124.5" y="602.0" width="2.3" height="2.4" fill="#9aa89a"/>
<rect x="120.0" y="605.7" width="2.1" height="1.0" fill="#1a4a26"/>
<rect x="134.0" y="649.2" width="2.6" height="1.1" fill="#1a4a26"/>
<rect x="123.4" y="676.2" width="1.9" height="1.8" fill="#14502a"/>
<rect x="119.6" y="676.9" width="1.2" height="1.8" fill="#1a4a26"/>
<rect x="100.4" y="658.5" width="0.9" height="1.3" fill="#0f3a1c"/>
<rect x="96.0" y="651.4" width="2.9" height="1.8" fill="#1a4a26"/>
<rect x="127.2" y="624.9" width="2.8" height="2.2" fill="#9aa89a"/>
<rect x="120.5" y="672.1" width="2.7" height="1.2" fill="#0f3a1c"/>
<rect x="131.8" y="654.7" width="0.8" height="1.4" fill="#9aa89a"/>
<rect x="111.5" y="654.8" width="2.9" height="2.4" fill="#7a8a78"/>
<rect x="132.4" y="617.9" width="1.6" height="1.5" fill="#1a4a26"/>
<rect x="95.6" y="671.4" width="1.3" height="1.6" fill="#6a7868"/>
<rect x="95.0" y="678.9" width="1.8" height="2.5" fill="#6a7868"/>
<rect x="99.2" y="660.9" width="1.2" height="2.0" fill="#2f5a38"/>
<rect x="135.1" y="648.3" width="2.6" height="2.1" fill="#2f5a38"/>
<rect x="119.3" y="650.2" width="2.6" height="2.9" fill="#7a8a78"/>
<rect x="95.2" y="679.5" width="1.9" height="1.9" fill="#7a8a78"/>
<rect x="131.6" y="587.4" width="1.2" height="2.6" fill="#14502a"/>
<rect x="133.6" y="676.9" width="2.3" height="1.8" fill="#9aa89a"/>
<rect x="135.0" y="642.6" width="1.0" height="1.5" fill="#9aa89a"/>
<rect x="108.6" y="596.6" width="2.2" height="1.3" fill="#0f3a1c"/>
<rect x="128.2" y="615.8" width="1.8" height="2.9" fill="#0f3a1c"/>
<rect x="94.3" y="639.6" width="1.5" height="0.8" fill="#6a7868"/>
<rect x="135.2" y="642.4" width="2.2" height="2.4" fill="#5a6a58"/>
<rect x="106.8" y="610.2" width="1.9" height="1.4" fill="#5a6a58"/>
<rect x="140.6" y="587.3" width="2.0" height="2.5" fill="#9aa89a"/>
<rect x="130.4" y="644.8" width="2.2" height="1.6" fill="#2f5a38"/>
<rect x="131.3" y="606.9" width="2.6" height="1.1" fill="#1a4a26"/>
<rect x="108.3" y="657.3" width="2.4" height="1.9" fill="#9aa89a"/>
<rect x="110.5" y="636.9" width="1.7" height="0.9" fill="#0f3a1c"/>
<rect x="125.6" y="668.8" width="2.5" height="1.9" fill="#9aa89a"/>
<rect x="132.0" y="679.7" width="1.1" height="1.3" fill="#6a7868"/>
<rect x="113.0" y="622.0" width="2.5" height="2.8" fill="#1a4a26"/>
<rect x="100.8" y="653.1" width="1.4" height="2.1" fill="#0f3a1c"/>
<rect x="97.5" y="602.3" width="2.8" height="2.1" fill="#2f5a38"/>
<rect x="121.3" y="678.8" width="1.6" height="2.5" fill="#14502a"/>
<rect x="127.9" y="672.5" width="2.6" height="1.5" fill="#5a6a58"/>
<rect x="107.0" y="608.7" width="0.9" height="1.2" fill="#2f5a38"/>
<rect x="105.1" y="585.9" width="0.9" height="1.8" fill="#2f5a38"/>
<rect x="134.6" y="646.2" width="1.2" height="2.4" fill="#5a6a58"/>
<rect x="122.2" y="591.6" width="2.6" height="2.7" fill="#0f3a1c"/>
<rect x="127.8" y="584.5" width="1.4" height="2.2" fill="#7a8a78"/>
<rect x="124.1" y="672.6" width="1.3" height="1.5" fill="#7a8a78"/>
<rect x="124.5" y="622.9" width="2.3" height="1.5" fill="#7a8a78"/>
<rect x="134.6" y="660.4" width="1.0" height="2.1" fill="#6a7868"/>
<rect x="140.4" y="622.4" width="2.9" height="2.7" fill="#7a8a78"/>
<rect x="137.5" y="638.2" width="3.0" height="0.9" fill="#0f3a1c"/>
<rect x="101.4" y="585.8" width="1.3" height="2.0" fill="#1a4a26"/>
<rect x="110.8" y="618.7" width="1.6" height="2.3" fill="#5a6a58"/>
<rect x="124.9" y="641.8" width="1.5" height="2.4" fill="#2f5a38"/>
<rect x="132.2" y="629.8" width="0.9" height="2.2" fill="#6a7868"/>
<rect x="120.3" y="618.7" width="2.0" height="1.4" fill="#2f5a38"/>
<rect x="94.4" y="629.7" width="2.2" height="2.5" fill="#0f3a1c"/>
<rect x="101.1" y="644.4" width="1.7" height="3.0" fill="#7a8a78"/>
<rect x="123.4" y="595.7" width="2.0" height="1.3" fill="#5a6a58"/>
<rect x="106.2" y="642.2" width="2.4" height="2.8" fill="#5a6a58"/>
<rect x="118.8" y="617.7" width="2.4" height="1.8" fill="#6a7868"/>
<rect x="104.0" y="671.6" width="2.8" height="1.7" fill="#9aa89a"/>
<rect x="109.2" y="670.7" width="1.0" height="2.4" fill="#1a4a26"/>
<rect x="131.9" y="671.7" width="2.3" height="1.6" fill="#9aa89a"/>
<rect x="120.5" y="623.4" width="2.8" height="2.9" fill="#9aa89a"/>
<rect x="95.4" y="586.0" width="2.4" height="1.3" fill="#0f3a1c"/>
<rect x="103.6" y="656.9" width="2.2" height="1.5" fill="#6a7868"/>
<rect x="104.2" y="638.7" width="1.1" height="2.7" fill="#2f5a38"/>
<rect x="138.9" y="597.1" width="1.5" height="1.0" fill="#7a8a78"/>
<rect x="116.8" y="669.5" width="1.2" height="2.3" fill="#6a7868"/>
<rect x="104.0" y="589.0" width="2.5" height="2.7" fill="#0f3a1c"/>
<rect x="96.2" y="658.3" width="1.8" height="1.8" fill="#5a6a58"/>
<rect x="140.8" y="612.6" width="0.9" height="1.0" fill="#7a8a78"/>
<rect x="100.3" y="613.1" width="1.9" height="1.6" fill="#5a6a58"/>
<rect x="115.8" y="622.1" width="1.7" height="2.2" fill="#14502a"/>
<rect x="135.5" y="678.0" width="0.9" height="1.3" fill="#7a8a78"/>
<rect x="95.8" y="632.5" width="1.3" height="1.7" fill="#1a4a26"/>
<rect x="128.2" y="588.6" width="2.8" height="0.9" fill="#1a4a26"/>
<rect x="99.7" y="630.8" width="1.1" height="1.7" fill="#5a6a58"/>
<rect x="104.5" y="635.9" width="2.2" height="2.0" fill="#1a4a26"/>
<rect x="118.9" y="664.6" width="2.9" height="1.0" fill="#9aa89a"/>
<rect x="134.1" y="677.3" width="1.3" height="1.0" fill="#5a6a58"/>
<rect x="94.7" y="609.8" width="2.9" height="1.2" fill="#7a8a78"/>
<rect x="113.2" y="637.4" width="1.6" height="0.8" fill="#7a8a78"/>
<rect x="124.7" y="636.2" width="2.0" height="2.3" fill="#2f5a38"/>
<rect x="112.8" y="614.6" width="1.7" height="2.9" fill="#14502a"/>
<rect x="129.8" y="668.6" width="2.6" height="2.8" fill="#7a8a78"/>
<rect x="105.2" y="632.1" width="3.0" height="2.3" fill="#14502a"/>
<rect x="140.6" y="663.3" width="2.3" height="1.0" fill="#7a8a78"/>
<rect x="136.7" y="588.8" width="2.3" height="1.5" fill="#6a7868"/>
<rect x="119.8" y="614.3" width="2.9" height="0.8" fill="#6a7868"/>
<rect x="118.0" y="640.9" width="3.0" height="1.3" fill="#14502a"/>
<rect x="110.7" y="590.2" width="2.9" height="1.4" fill="#0f3a1c"/>
<rect x="97.4" y="660.5" width="2.3" height="2.8" fill="#2f5a38"/>
<rect x="106.3" y="664.7" width="2.7" height="1.6" fill="#6a7868"/>
<rect x="120.8" y="679.9" width="0.9" height="2.5" fill="#0f3a1c"/>
<rect x="118.6" y="634.6" width="2.6" height="1.3" fill="#5a6a58"/>
<rect x="101.2" y="647.5" width="1.2" height="2.9" fill="#7a8a78"/>
<rect x="109.1" y="618.7" width="2.7" height="1.7" fill="#14502a"/>
<rect x="101.2" y="608.1" width="1.0" height="1.6" fill="#2f5a38"/>
<rect x="115.3" y="592.4" width="1.7" height="3.0" fill="#1a4a26"/>
<rect x="115.1" y="629.9" width="2.6" height="2.5" fill="#5a6a58"/>
<rect x="94.3" y="596.5" width="1.9" height="2.3" fill="#0f3a1c"/>
<rect x="118.6" y="660.9" width="1.4" height="2.0" fill="#7a8a78"/>
<rect x="120.8" y="589.5" width="1.2" height="2.4" fill="#2f5a38"/>
<rect x="137.1" y="608.5" width="1.4" height="1.8" fill="#6a7868"/>
<rect x="134.4" y="603.4" width="1.7" height="2.5" fill="#0f3a1c"/>
<rect x="137.3" y="652.9" width="1.6" height="0.9" fill="#2f5a38"/>
<rect x="139.6" y="625.4" width="2.1" height="1.4" fill="#9aa89a"/>
<rect x="112.1" y="639.6" width="2.8" height="1.2" fill="#0f3a1c"/>
<rect x="97.0" y="603.5" width="2.7" height="1.0" fill="#6a7868"/>
<rect x="111.8" y="634.5" width="1.9" height="2.8" fill="#7a8a78"/>
<rect x="99.1" y="638.1" width="2.9" height="2.3" fill="#14502a"/>
<rect x="113.5" y="629.5" width="2.8" height="1.8" fill="#6a7868"/>
<rect x="100.4" y="656.3" width="0.8" height="1.3" fill="#9aa89a"/>
<rect x="112.9" y="587.9" width="2.3" height="2.0" fill="#14502a"/>
<rect x="130.2" y="595.3" width="1.3" height="1.0" fill="#7a8a78"/>
<rect x="98.8" y="592.5" width="2.5" height="2.0" fill="#7a8a78"/>
<rect x="132.7" y="603.2" width="1.5" height="2.7" fill="#14502a"/>
<rect x="133.6" y="597.5" width="1.7" height="0.9" fill="#5a6a58"/>
<rect x="109.1" y="602.3" width="3.0" height="1.2" fill="#2f5a38"/>
<rect x="118.4" y="592.3" width="1.6" height="2.3" fill="#2f5a38"/>
<rect x="120.1" y="633.1" width="1.7" height="0.9" fill="#2f5a38"/>
<rect x="105.7" y="620.5" width="1.8" height="2.0" fill="#2f5a38"/>
<rect x="103.5" y="589.0" width="2.0" height="1.6" fill="#6a7868"/>
<rect x="124.8" y="652.1" width="1.1" height="2.8" fill="#0f3a1c"/>
<rect x="103.4" y="672.3" width="2.0" height="0.9" fill="#0f3a1c"/>
<rect x="94.4" y="590.5" width="2.9" height="2.6" fill="#7a8a78"/>
<rect x="106.9" y="660.4" width="1.4" height="2.4" fill="#6a7868"/>
<rect x="113.1" y="653.9" width="1.2" height="1.2" fill="#5a6a58"/>
<rect x="114.4" y="645.4" width="0.9" height="2.7" fill="#1a4a26"/>
<rect x="132.3" y="631.7" width="0.8" height="2.4" fill="#5a6a58"/>
<rect x="117.4" y="648.7" width="2.3" height="1.4" fill="#9aa89a"/>
<rect x="119.1" y="599.3" width="2.5" height="2.4" fill="#1a4a26"/>
<rect x="115.9" y="603.4" width="1.0" height="0.9" fill="#9aa89a"/>
<rect x="125.0" y="608.7" width="2.8" height="2.3" fill="#5a6a58"/>
<rect x="134.8" y="672.7" width="1.1" height="1.2" fill="#6a7868"/>
<rect x="107.8" y="606.3" width="2.1" height="1.5" fill="#5a6a58"/>
<rect x="108.5" y="608.8" width="2.0" height="1.3" fill="#9aa89a"/>
<rect x="112.4" y="587.2" width="1.6" height="2.2" fill="#9aa89a"/>
<rect x="124.8" y="650.6" width="1.2" height="1.1" fill="#5a6a58"/>
<rect x="114.2" y="649.2" width="1.1" height="2.6" fill="#1a4a26"/>
<rect x="124.9" y="604.2" width="2.2" height="2.0" fill="#1a4a26"/>
<rect x="107.7" y="617.4" width="2.5" height="1.9" fill="#1a4a26"/>
<rect x="103.4" y="610.9" width="1.5" height="2.1" fill="#1a4a26"/>
<rect x="103.5" y="629.2" width="2.5" height="2.5" fill="#9aa89a"/>
<rect x="121.2" y="612.8" width="2.1" height="1.0" fill="#7a8a78"/>
<rect x="110.2" y="674.7" width="2.2" height="0.9" fill="#0f3a1c"/>
<rect x="110.5" y="630.2" width="1.5" height="1.6" fill="#1a4a26"/>
<rect x="131.0" y="612.6" width="1.0" height="2.0" fill="#1a4a26"/>
<rect x="129.1" y="594.8" width="1.2" height="1.7" fill="#7a8a78"/>
<rect x="95.6" y="633.3" width="1.0" height="2.2" fill="#5a6a58"/>
<rect x="113.5" y="664.4" width="1.0" height="2.4" fill="#5a6a58"/>
<rect x="110.9" y="647.6" width="1.0" height="0.8" fill="#6a7868"/>
<rect x="108.3" y="609.1" width="1.0" height="1.3" fill="#5a6a58"/>
<rect x="117.3" y="635.5" width="1.1" height="1.8" fill="#5a6a58"/>
<rect x="120.7" y="588.0" width="1.4" height="2.9" fill="#2f5a38"/>
<rect x="113.0" y="603.5" width="1.1" height="1.3" fill="#9aa89a"/>
<rect x="135.9" y="585.5" width="2.9" height="1.9" fill="#9aa89a"/>
<rect x="126.4" y="606.0" width="2.5" height="1.1" fill="#2f5a38"/>
<rect x="140.9" y="624.7" width="2.2" height="1.0" fill="#1a4a26"/>
<rect x="98.0" y="639.5" width="1.3" height="2.1" fill="#7a8a78"/>
<rect x="132.6" y="591.0" width="1.5" height="1.0" fill="#9aa89a"/>
<rect x="123.1" y="650.4" width="2.6" height="1.6" fill="#6a7868"/>
<rect x="121.8" y="601.5" width="1.5" height="2.8" fill="#14502a"/>
<rect x="95.5" y="659.7" width="1.1" height="1.9" fill="#5a6a58"/>
<rect x="101.1" y="617.1" width="1.1" height="1.2" fill="#9aa89a"/>
<rect x="126.2" y="652.0" width="0.9" height="0.8" fill="#6a7868"/>
<rect x="95.8" y="634.5" width="1.5" height="1.0" fill="#1a4a26"/>
<rect x="103.4" y="644.0" width="2.7" height="2.5" fill="#1a4a26"/>
<rect x="124.6" y="677.2" width="2.1" height="2.6" fill="#6a7868"/>
<rect x="125.6" y="655.6" width="1.1" height="2.6" fill="#2f5a38"/>
<rect x="136.5" y="655.5" width="2.6" height="2.6" fill="#5a6a58"/>
<rect x="114.5" y="663.2" width="2.5" height="2.7" fill="#2f5a38"/>
<rect x="129.2" y="641.0" width="2.2" height="2.2" fill="#1a4a26"/>
<rect x="139.5" y="659.6" width="1.4" height="2.6" fill="#9aa89a"/>
<rect x="105.3" y="640.4" width="2.0" height="2.7" fill="#7a8a78"/>
<rect x="112.4" y="659.2" width="2.5" height="2.3" fill="#0f3a1c"/>
<rect x="132.8" y="623.0" width="1.0" height="2.2" fill="#0f3a1c"/>
<rect x="125.2" y="670.8" width="1.7" height="1.5" fill="#2f5a38"/>
<rect x="117.0" y="585.6" width="1.0" height="2.6" fill="#14502a"/>
<rect x="113.3" y="612.7" width="1.1" height="2.0" fill="#1a4a26"/>
<rect x="110.6" y="665.1" width="2.2" height="1.4" fill="#1a4a26"/>
<rect x="140.6" y="602.0" width="2.8" height="1.7" fill="#9aa89a"/>
<rect x="99.7" y="649.6" width="0.9" height="2.6" fill="#5a6a58"/>
<rect x="112.3" y="615.9" width="1.1" height="1.2" fill="#0f3a1c"/>
<rect x="135.8" y="642.6" width="2.8" height="1.7" fill="#6a7868"/>
<rect x="109.0" y="668.1" width="2.5" height="2.1" fill="#5a6a58"/>
<rect x="112.4" y="584.9" width="2.7" height="1.0" fill="#9aa89a"/>
<rect x="115.4" y="661.7" width="1.4" height="1.6" fill="#1a4a26"/>
<rect x="140.3" y="654.5" width="2.5" height="2.3" fill="#5a6a58"/>
<rect x="137.6" y="669.8" width="2.3" height="1.0" fill="#0f3a1c"/>
<rect x="114.9" y="676.0" width="1.6" height="2.3" fill="#14502a"/>
<rect x="138.1" y="661.6" width="0.9" height="2.2" fill="#6a7868"/>
<rect x="111.1" y="677.7" width="0.9" height="2.6" fill="#1a4a26"/>
<rect x="120.2" y="627.0" width="2.5" height="2.8" fill="#6a7868"/>
<rect x="95.7" y="615.2" width="1.1" height="2.9" fill="#2f5a38"/>
<rect x="100.8" y="640.4" width="2.1" height="0.9" fill="#14502a"/>
<rect x="102.2" y="640.6" width="3.0" height="2.2" fill="#9aa89a"/>
<rect x="107.7" y="636.3" width="1.7" height="3.0" fill="#1a4a26"/>
<rect x="131.8" y="648.9" width="1.6" height="2.9" fill="#0f3a1c"/>
<rect x="126.5" y="610.6" width="1.2" height="2.1" fill="#7a8a78"/>
<rect x="131.3" y="617.3" width="1.1" height="1.9" fill="#7a8a78"/>
<rect x="101.6" y="654.9" width="1.2" height="1.5" fill="#7a8a78"/>
<rect x="121.6" y="677.3" width="2.5" height="1.6" fill="#5a6a58"/>
<rect x="106.8" y="669.6" width="1.8" height="2.2" fill="#6a7868"/>
<rect x="112.9" y="649.4" width="1.6" height="1.5" fill="#6a7868"/>
<rect x="106.5" y="603.6" width="2.8" height="1.8" fill="#14502a"/>
<rect x="123.9" y="658.8" width="1.5" height="1.1" fill="#6a7868"/>
<rect x="125.1" y="665.4" width="1.7" height="1.0" fill="#14502a"/>
<rect x="111.0" y="672.1" width="2.0" height="1.4" fill="#1a4a26"/>
<rect x="106.2" y="658.1" width="0.9" height="2.6" fill="#2f5a38"/>
<rect x="110.6" y="674.2" width="1.4" height="1.3" fill="#1a4a26"/>
<rect x="135.2" y="593.3" width="2.1" height="2.6" fill="#1a4a26"/>
<rect x="137.7" y="599.9" width="1.2" height="2.4" fill="#1a4a26"/>
<rect x="130.4" y="621.9" width="2.9" height="2.4" fill="#0f3a1c"/>
<rect x="112.8" y="632.0" width="1.5" height="2.7" fill="#5a6a58"/>
<rect x="119.0" y="634.0" width="2.3" height="2.8" fill="#5a6a58"/>
<rect x="104.0" y="649.5" width="2.8" height="0.9" fill="#7a8a78"/>
<rect x="134.0" y="648.1" width="2.1" height="1.7" fill="#2f5a38"/>
<rect x="130.9" y="649.2" width="2.7" height="1.1" fill="#9aa89a"/>
<rect x="125.6" y="656.4" width="1.9" height="2.8" fill="#7a8a78"/>
<rect x="128.9" y="662.8" width="2.2" height="2.7" fill="#5a6a58"/>
<rect x="124.4" y="668.0" width="1.6" height="2.8" fill="#1a4a26"/>
<rect x="130.3" y="642.1" width="1.9" height="2.1" fill="#9aa89a"/>
<rect x="108.5" y="618.5" width="2.1" height="2.8" fill="#1a4a26"/>
<rect x="110.9" y="651.1" width="1.0" height="2.6" fill="#0f3a1c"/>
<rect x="104.3" y="627.9" width="2.5" height="1.8" fill="#7a8a78"/>
<rect x="139.9" y="640.7" width="2.1" height="0.9" fill="#6a7868"/>
<rect x="99.2" y="605.5" width="2.2" height="1.5" fill="#0f3a1c"/>
<rect x="118.9" y="606.1" width="2.0" height="2.6" fill="#2f5a38"/>
<rect x="133.5" y="661.6" width="2.0" height="0.9" fill="#5a6a58"/>
<rect x="95.3" y="632.4" width="1.7" height="0.9" fill="#2f5a38"/>
<rect x="128.1" y="640.2" width="1.7" height="1.9" fill="#14502a"/>
<rect x="104.6" y="667.3" width="3.0" height="2.6" fill="#0f3a1c"/>
<rect x="124.9" y="608.2" width="2.2" height="2.1" fill="#14502a"/>
<rect x="115.3" y="649.5" width="2.4" height="1.8" fill="#0f3a1c"/>
<rect x="122.9" y="594.7" width="1.2" height="2.5" fill="#1a4a26"/>
<rect x="128.6" y="633.6" width="1.8" height="1.2" fill="#9aa89a"/>
<rect x="130.3" y="603.3" width="2.5" height="2.6" fill="#2f5a38"/>
<rect x="129.1" y="675.0" width="2.8" height="2.4" fill="#7a8a78"/>
<rect x="96.9" y="603.7" width="0.8" height="2.7" fill="#2f5a38"/>
<rect x="120.2" y="644.2" width="2.0" height="1.5" fill="#0f3a1c"/>
<rect x="108.4" y="588.2" width="1.2" height="1.6" fill="#7a8a78"/>
<rect x="131.8" y="627.7" width="1.0" height="1.0" fill="#5a6a58"/>
<rect x="111.1" y="668.9" width="1.9" height="1.0" fill="#0f3a1c"/>
<rect x="131.4" y="629.7" width="2.6" height="1.1" fill="#1a4a26"/>
<rect x="118.8" y="608.1" width="1.7" height="1.6" fill="#7a8a78"/>
<rect x="138.1" y="602.5" width="1.4" height="2.6" fill="#14502a"/>
<rect x="130.4" y="653.7" width="1.2" height="2.8" fill="#14502a"/>
<rect x="100.3" y="585.2" width="1.3" height="2.1" fill="#14502a"/>
<rect x="95.3" y="662.1" width="2.9" height="1.0" fill="#7a8a78"/>
<rect x="103.6" y="639.0" width="2.8" height="2.7" fill="#0f3a1c"/>
<rect x="123.4" y="669.0" width="1.9" height="2.2" fill="#9aa89a"/>
<rect x="94.3" y="603.6" width="1.6" height="2.7" fill="#1a4a26"/>
<rect x="121.8" y="596.1" width="1.2" height="1.8" fill="#6a7868"/>
<rect x="129.8" y="638.7" width="2.4" height="2.7" fill="#5a6a58"/>
<rect x="112.8" y="648.6" width="2.4" height="1.3" fill="#6a7868"/>
<rect x="126.5" y="629.3" width="1.1" height="2.8" fill="#14502a"/>
<rect x="96.9" y="606.9" width="3.0" height="1.3" fill="#14502a"/>
<rect x="120.6" y="655.5" width="1.3" height="2.4" fill="#7a8a78"/>
<rect x="105.4" y="671.2" width="1.2" height="0.8" fill="#6a7868"/>
<rect x="96.3" y="607.1" width="2.8" height="1.3" fill="#7a8a78"/>
<rect x="137.7" y="645.3" width="2.8" height="1.4" fill="#5a6a58"/>
<rect x="116.0" y="630.0" width="2.9" height="2.5" fill="#1a4a26"/>
<rect x="102.8" y="661.5" width="1.2" height="1.9" fill="#1a4a26"/>
<rect x="118.0" y="675.9" width="1.6" height="2.7" fill="#1a4a26"/>
<rect x="134.0" y="637.4" width="2.6" height="1.9" fill="#1a4a26"/>
<rect x="127.2" y="647.5" width="2.2" height="1.8" fill="#7a8a78"/>
<rect x="120.3" y="604.0" width="1.2" height="1.9" fill="#6a7868"/>
<rect x="103.8" y="652.0" width="2.4" height="2.3" fill="#1a4a26"/>
<rect x="122.8" y="592.3" width="1.9" height="2.3" fill="#1a4a26"/>
<rect x="128.3" y="665.6" width="2.7" height="1.0" fill="#0f3a1c"/>
<rect x="106.9" y="613.7" width="1.5" height="1.9" fill="#0f3a1c"/>
<rect x="130.1" y="584.7" width="1.0" height="1.1" fill="#9aa89a"/>
<rect x="118.4" y="627.7" width="1.7" height="2.1" fill="#9aa89a"/>
<rect x="137.1" y="654.3" width="2.6" height="2.8" fill="#7a8a78"/>
<rect x="127.7" y="586.9" width="2.3" height="2.7" fill="#14502a"/>
<rect x="131.7" y="589.3" width="2.2" height="1.4" fill="#2f5a38"/>
<rect x="127.2" y="608.3" width="1.5" height="1.6" fill="#0f3a1c"/>
<rect x="112.0" y="599.6" width="1.2" height="2.9" fill="#6a7868"/>
<rect x="129.8" y="664.3" width="3.0" height="2.5" fill="#2f5a38"/>
<rect x="131.8" y="585.3" width="2.0" height="1.5" fill="#0f3a1c"/>
<rect x="137.3" y="615.6" width="2.5" height="2.5" fill="#0f3a1c"/>
<rect x="131.3" y="635.1" width="1.0" height="2.6" fill="#0f3a1c"/>
<rect x="114.0" y="616.3" width="0.9" height="1.1" fill="#6a7868"/>
<rect x="101.6" y="635.0" width="2.2" height="2.0" fill="#14502a"/>
<rect x="137.8" y="633.8" width="2.5" height="2.2" fill="#9aa89a"/>
<rect x="104.2" y="656.5" width="2.7" height="2.4" fill="#14502a"/>
<rect x="127.6" y="679.0" width="1.2" height="1.8" fill="#5a6a58"/>
<rect x="126.5" y="655.6" width="2.5" height="1.3" fill="#2f5a38"/>
<rect x="139.1" y="592.8" width="2.7" height="2.2" fill="#5a6a58"/>
<rect x="124.8" y="641.4" width="2.3" height="1.5" fill="#1a4a26"/>
<rect x="128.3" y="635.4" width="1.0" height="1.0" fill="#1a4a26"/>
<rect x="128.0" y="646.2" width="1.9" height="2.7" fill="#6a7868"/>
<rect x="102.4" y="593.6" width="1.5" height="1.7" fill="#5a6a58"/>
<rect x="114.9" y="653.9" width="1.0" height="2.9" fill="#0f3a1c"/>
<rect x="109.2" y="603.8" width="1.7" height="2.5" fill="#1a4a26"/>
<rect x="134.2" y="661.1" width="2.3" height="1.4" fill="#7a8a78"/>
<rect x="133.7" y="591.0" width="1.0" height="2.5" fill="#2f5a38"/>
<rect x="125.1" y="601.3" width="1.1" height="1.0" fill="#7a8a78"/>
<rect x="112.0" y="646.6" width="2.1" height="1.3" fill="#1a4a26"/>
<rect x="107.9" y="609.8" width="2.8" height="2.9" fill="#0f3a1c"/>
<rect x="111.1" y="653.4" width="1.1" height="2.5" fill="#2f5a38"/>
<rect x="111.4" y="600.0" width="2.3" height="2.7" fill="#5a6a58"/>
<rect x="107.4" y="620.6" width="2.5" height="1.3" fill="#9aa89a"/>
<rect x="135.7" y="657.2" width="2.7" height="1.3" fill="#6a7868"/>
<rect x="106.4" y="584.7" width="1.0" height="1.6" fill="#0f3a1c"/>
<rect x="105.0" y="586.8" width="1.8" height="1.1" fill="#6a7868"/>
<rect x="120.1" y="631.2" width="1.7" height="1.9" fill="#5a6a58"/>
<rect x="136.8" y="624.9" width="0.9" height="1.2" fill="#2f5a38"/>
<rect x="111.0" y="629.0" width="2.9" height="2.0" fill="#1a4a26"/>
<rect x="117.9" y="630.5" width="1.3" height="2.1" fill="#14502a"/>
<rect x="99.2" y="674.6" width="2.0" height="1.3" fill="#5a6a58"/>
<rect x="118.0" y="614.4" width="1.0" height="1.9" fill="#6a7868"/>
<rect x="137.4" y="628.2" width="2.4" height="1.0" fill="#6a7868"/>
<rect x="123.7" y="593.4" width="1.4" height="2.5" fill="#1a4a26"/>
<rect x="99.6" y="678.5" width="1.9" height="1.2" fill="#7a8a78"/>
<rect x="123.5" y="661.9" width="2.8" height="2.2" fill="#7a8a78"/>
<rect x="119.2" y="606.5" width="1.9" height="2.1" fill="#0f3a1c"/>
<rect x="100.8" y="661.1" width="2.9" height="2.4" fill="#0f3a1c"/>
<rect x="124.9" y="646.5" width="2.3" height="0.8" fill="#6a7868"/>
<rect x="136.4" y="591.9" width="1.3" height="0.9" fill="#6a7868"/>
<rect x="139.8" y="664.6" width="1.5" height="1.5" fill="#9aa89a"/>
<rect x="138.2" y="622.6" width="2.3" height="0.8" fill="#6a7868"/>
<rect x="105.0" y="629.8" width="1.9" height="2.9" fill="#6a7868"/>
<rect x="125.6" y="604.4" width="2.8" height="1.2" fill="#6a7868"/>
<rect x="103.5" y="680.0" width="1.8" height="1.3" fill="#0f3a1c"/>
<rect x="95.5" y="601.0" width="1.7" height="2.4" fill="#0f3a1c"/>
<rect x="130.2" y="606.9" width="2.6" height="1.1" fill="#2f5a38"/>
<rect x="122.5" y="629.6" width="2.0" height="1.7" fill="#2f5a38"/>
<rect x="105.3" y="595.6" width="2.9" height="1.1" fill="#5a6a58"/>
<rect x="140.9" y="597.0" width="1.5" height="2.5" fill="#5a6a58"/>
<rect x="105.0" y="600.1" width="2.1" height="1.8" fill="#14502a"/>
<rect x="105.9" y="638.7" width="1.3" height="1.1" fill="#2f5a38"/>
<rect x="139.5" y="652.4" width="1.0" height="1.8" fill="#1a4a26"/>
<rect x="139.5" y="670.8" width="1.0" height="2.5" fill="#5a6a58"/>
<rect x="134.9" y="624.3" width="2.0" height="2.7" fill="#1a4a26"/>
<rect x="115.0" y="632.0" width="2.0" height="2.3" fill="#0f3a1c"/>
<rect x="136.2" y="676.4" width="1.2" height="1.0" fill="#2f5a38"/>
<rect x="120.8" y="601.4" width="2.3" height="1.4" fill="#9aa89a"/>
<rect x="113.4" y="675.8" width="1.4" height="2.6" fill="#7a8a78"/>
<rect x="123.3" y="629.3" width="2.3" height="2.6" fill="#7a8a78"/>
<rect x="114.9" y="616.6" width="2.5" height="2.9" fill="#5a6a58"/>
<rect x="115.9" y="615.1" width="2.9" height="3.0" fill="#1a4a26"/>
<rect x="139.0" y="603.9" width="1.7" height="2.9" fill="#9aa89a"/>
<rect x="111.4" y="652.0" width="1.6" height="1.9" fill="#0f3a1c"/>
<rect x="100.0" y="605.4" width="1.3" height="1.4" fill="#7a8a78"/>
<rect x="118.0" y="668.9" width="2.2" height="2.2" fill="#6a7868"/>
<rect x="121.4" y="674.5" width="2.1" height="1.6" fill="#14502a"/>
<rect x="108.8" y="661.9" width="2.3" height="2.3" fill="#5a6a58"/>
<rect x="112.5" y="595.2" width="2.2" height="1.4" fill="#9aa89a"/>
<rect x="123.8" y="651.7" width="2.9" height="1.2" fill="#2f5a38"/>
<rect x="124.5" y="599.7" width="0.9" height="1.8" fill="#7a8a78"/>
<rect x="103.3" y="585.4" width="2.0" height="2.4" fill="#2f5a38"/>
<rect x="95.4" y="660.6" width="2.6" height="1.0" fill="#9aa89a"/>
<rect x="94.2" y="606.1" width="1.4" height="2.4" fill="#9aa89a"/>
<rect x="94.9" y="595.0" width="2.9" height="2.9" fill="#5a6a58"/>
<rect x="116.1" y="591.0" width="1.6" height="1.4" fill="#6a7868"/>
<rect x="135.1" y="616.0" width="2.8" height="1.4" fill="#2f5a38"/>
<rect x="98.3" y="643.9" width="2.3" height="1.4" fill="#0f3a1c"/>
<rect x="110.1" y="631.2" width="1.2" height="2.8" fill="#7a8a78"/>
<rect x="129.3" y="664.5" width="1.7" height="1.4" fill="#7a8a78"/>
<rect x="104.8" y="660.5" width="2.6" height="1.0" fill="#5a6a58"/>
<rect x="103.0" y="651.9" width="2.6" height="2.5" fill="#9aa89a"/>
<rect x="123.3" y="663.2" width="1.8" height="1.8" fill="#7a8a78"/>
<rect x="103.1" y="639.9" width="1.0" height="2.2" fill="#9aa89a"/>
<rect x="129.3" y="632.1" width="1.9" height="1.5" fill="#7a8a78"/>
<rect x="95.5" y="653.5" width="1.3" height="1.4" fill="#6a7868"/>
<rect x="122.9" y="670.6" width="1.3" height="1.5" fill="#2f5a38"/>
<rect x="100.2" y="590.0" width="1.8" height="1.5" fill="#2f5a38"/>
<rect x="112.6" y="634.2" width="1.5" height="2.5" fill="#0f3a1c"/>
<rect x="98.2" y="588.7" width="1.9" height="1.1" fill="#9aa89a"/>
<rect x="115.7" y="603.0" width="1.1" height="1.9" fill="#0f3a1c"/>
</g>
<line x1="97" y1="584" x2="121" y2="571.5" stroke="#1f9a4f" stroke-width="3.5"/>
<polygon points="48,659 86,693 58,693 46,670" fill="#2e2a3e" />
<rect x="50" y="664" width="4" height="4" fill="#a05a30"/>
<rect x="55" y="670" width="4" height="4" fill="#b06a38"/>
<rect x="60" y="676" width="4" height="4" fill="#3a5a90"/>
<rect x="65" y="682" width="4" height="4" fill="#a05a30"/>
<rect x="52" y="678" width="4" height="4" fill="#9a9aaa"/>
<polygon points="50,656 92,650.5 127,682 86,690" fill="#4a4262" />
<g clip-path="url(#cpur)">
<rect x="102.2" y="670.0" width="1.9" height="1.2" fill="#7a7a8a"/>
<rect x="53.5" y="666.3" width="2.5" height="1.8" fill="#7a7a8a"/>
<rect x="88.6" y="668.9" width="3.6" height="3.8" fill="#1e1c2a"/>
<rect x="108.9" y="665.6" width="2.3" height="3.8" fill="#8a86a0"/>
<rect x="96.9" y="654.4" width="2.4" height="2.9" fill="#8a86a0"/>
<rect x="58.5" y="686.0" width="3.8" height="2.7" fill="#2a2638"/>
<rect x="84.8" y="676.0" width="1.9" height="1.2" fill="#3a3450"/>
<rect x="100.2" y="664.3" width="2.6" height="1.4" fill="#7a7a8a"/>
<rect x="55.4" y="690.5" width="1.2" height="1.9" fill="#3a3450"/>
<rect x="101.0" y="672.3" width="3.1" height="1.9" fill="#3a3450"/>
<rect x="90.0" y="685.0" width="1.5" height="1.5" fill="#3a3450"/>
<rect x="111.7" y="679.7" width="2.1" height="3.7" fill="#1e1c2a"/>
<rect x="124.8" y="654.9" width="1.8" height="3.2" fill="#7a7a8a"/>
<rect x="119.4" y="669.9" width="3.9" height="2.8" fill="#8a86a0"/>
<rect x="107.9" y="666.5" width="1.6" height="3.4" fill="#7a7a8a"/>
<rect x="63.3" y="690.2" width="1.3" height="3.4" fill="#8a86a0"/>
<rect x="111.4" y="651.2" width="2.5" height="3.4" fill="#7a7a8a"/>
<rect x="59.7" y="685.9" width="2.0" height="1.5" fill="#7a7a8a"/>
<rect x="115.0" y="678.7" width="3.0" height="1.2" fill="#2a2638"/>
<rect x="116.2" y="674.1" width="1.0" height="3.3" fill="#b09040"/>
<rect x="51.1" y="651.6" width="4.0" height="1.7" fill="#8a86a0"/>
<rect x="112.7" y="661.2" width="2.1" height="2.1" fill="#8a86a0"/>
<rect x="79.2" y="661.9" width="3.8" height="1.0" fill="#7a7a8a"/>
<rect x="80.4" y="676.7" width="3.7" height="3.3" fill="#5a5278"/>
<rect x="112.5" y="677.1" width="1.2" height="3.7" fill="#5a5278"/>
<rect x="107.6" y="684.1" width="1.8" height="3.0" fill="#1e1c2a"/>
<rect x="82.5" y="662.9" width="1.7" height="3.1" fill="#7a7a8a"/>
<rect x="112.8" y="664.5" width="3.5" height="3.5" fill="#3a3450"/>
<rect x="59.0" y="689.4" width="3.2" height="3.0" fill="#7a7a8a"/>
<rect x="120.0" y="683.3" width="3.5" height="3.9" fill="#8a86a0"/>
<rect x="85.1" y="669.4" width="3.2" height="3.5" fill="#7a7a8a"/>
<rect x="74.9" y="660.5" width="1.3" height="2.0" fill="#2a2638"/>
<rect x="119.3" y="651.1" width="2.1" height="2.8" fill="#1e1c2a"/>
<rect x="106.5" y="658.3" width="2.4" height="2.2" fill="#3a3450"/>
<rect x="85.7" y="665.9" width="2.9" height="3.7" fill="#b09040"/>
<rect x="85.2" y="687.8" width="3.2" height="1.9" fill="#3a3450"/>
<rect x="75.8" y="688.4" width="2.8" height="4.0" fill="#b09040"/>
<rect x="53.4" y="668.7" width="1.0" height="3.9" fill="#5a5278"/>
<rect x="64.4" y="665.2" width="2.1" height="3.9" fill="#7a7a8a"/>
<rect x="116.2" y="677.5" width="2.7" height="2.4" fill="#b09040"/>
<rect x="82.2" y="680.1" width="2.3" height="1.3" fill="#b09040"/>
<rect x="71.0" y="671.6" width="3.2" height="1.3" fill="#3a3450"/>
<rect x="106.8" y="683.7" width="1.7" height="3.6" fill="#7a7a8a"/>
<rect x="82.2" y="666.0" width="3.1" height="3.8" fill="#5a5278"/>
<rect x="73.9" y="691.6" width="2.5" height="3.9" fill="#1e1c2a"/>
<rect x="91.2" y="671.0" width="3.0" height="1.4" fill="#1e1c2a"/>
<rect x="127.0" y="673.6" width="3.4" height="1.6" fill="#7a7a8a"/>
<rect x="91.6" y="681.9" width="3.6" height="2.1" fill="#2a2638"/>
<rect x="64.4" y="651.0" width="2.5" height="3.7" fill="#7a7a8a"/>
<rect x="123.4" y="671.5" width="3.8" height="2.7" fill="#5a5278"/>
<rect x="60.1" y="668.4" width="1.1" height="1.4" fill="#7a7a8a"/>
<rect x="68.5" y="661.6" width="2.3" height="2.5" fill="#1e1c2a"/>
<rect x="52.3" y="682.5" width="3.4" height="3.7" fill="#5a5278"/>
<rect x="107.1" y="660.0" width="1.8" height="2.6" fill="#5a5278"/>
<rect x="66.3" y="657.3" width="3.6" height="3.9" fill="#7a7a8a"/>
<rect x="104.9" y="681.5" width="3.1" height="3.1" fill="#8a86a0"/>
<rect x="114.0" y="667.8" width="2.5" height="2.5" fill="#2a2638"/>
<rect x="83.0" y="653.6" width="1.2" height="3.4" fill="#7a7a8a"/>
<rect x="80.8" y="663.4" width="1.5" height="1.6" fill="#b09040"/>
<rect x="74.5" y="682.2" width="1.7" height="1.6" fill="#5a5278"/>
<rect x="116.7" y="665.0" width="2.3" height="1.9" fill="#7a7a8a"/>
<rect x="65.3" y="653.6" width="1.6" height="1.9" fill="#b09040"/>
<rect x="71.4" y="667.5" width="3.5" height="3.3" fill="#b09040"/>
<rect x="86.4" y="689.7" width="2.4" height="1.6" fill="#b09040"/>
<rect x="88.2" y="671.0" width="1.7" height="2.1" fill="#1e1c2a"/>
<rect x="124.4" y="666.9" width="2.1" height="2.3" fill="#8a86a0"/>
<rect x="103.7" y="685.3" width="2.9" height="2.4" fill="#3a3450"/>
<rect x="93.2" y="650.3" width="3.5" height="3.2" fill="#8a86a0"/>
<rect x="88.2" y="679.9" width="3.0" height="3.9" fill="#b09040"/>
<rect x="71.6" y="673.3" width="3.0" height="3.2" fill="#7a7a8a"/>
<rect x="59.5" y="665.4" width="3.6" height="3.4" fill="#b09040"/>
<rect x="93.1" y="659.2" width="3.4" height="1.5" fill="#b09040"/>
<rect x="79.8" y="657.7" width="1.3" height="3.7" fill="#3a3450"/>
<rect x="125.1" y="675.9" width="3.4" height="2.3" fill="#8a86a0"/>
<rect x="76.7" y="687.6" width="2.0" height="2.6" fill="#8a86a0"/>
<rect x="98.5" y="670.0" width="2.0" height="2.2" fill="#b09040"/>
<rect x="92.7" y="686.0" width="1.1" height="3.4" fill="#2a2638"/>
<rect x="76.7" y="688.3" width="2.6" height="1.8" fill="#8a86a0"/>
<rect x="70.7" y="670.8" width="3.8" height="2.1" fill="#2a2638"/>
<rect x="63.3" y="652.5" width="3.4" height="1.4" fill="#5a5278"/>
<rect x="65.3" y="668.3" width="1.4" height="3.9" fill="#2a2638"/>
<rect x="122.8" y="673.1" width="3.8" height="1.3" fill="#5a5278"/>
<rect x="82.3" y="658.1" width="3.2" height="3.6" fill="#1e1c2a"/>
<rect x="81.4" y="676.4" width="3.1" height="1.5" fill="#5a5278"/>
<rect x="125.2" y="651.6" width="1.2" height="1.4" fill="#2a2638"/>
<rect x="73.9" y="679.2" width="1.5" height="2.4" fill="#2a2638"/>
<rect x="62.3" y="675.6" width="3.0" height="3.9" fill="#8a86a0"/>
<rect x="57.6" y="686.0" width="2.0" height="2.2" fill="#1e1c2a"/>
<rect x="66.4" y="690.9" width="4.0" height="3.1" fill="#5a5278"/>
<rect x="61.1" y="687.5" width="3.4" height="2.9" fill="#7a7a8a"/>
<rect x="52.7" y="672.3" width="3.0" height="1.1" fill="#1e1c2a"/>
<rect x="91.2" y="687.1" width="1.0" height="2.3" fill="#2a2638"/>
<rect x="95.5" y="664.2" width="2.2" height="3.8" fill="#3a3450"/>
<rect x="51.8" y="683.0" width="2.5" height="2.5" fill="#7a7a8a"/>
<rect x="78.3" y="679.0" width="1.0" height="3.4" fill="#3a3450"/>
<rect x="103.4" y="689.4" width="3.5" height="2.1" fill="#7a7a8a"/>
<rect x="100.9" y="673.9" width="3.2" height="2.2" fill="#1e1c2a"/>
<rect x="123.5" y="689.0" width="2.8" height="1.9" fill="#1e1c2a"/>
<rect x="63.1" y="691.7" width="1.6" height="3.0" fill="#b09040"/>
<rect x="112.9" y="691.6" width="3.1" height="2.0" fill="#3a3450"/>
<rect x="92.2" y="683.6" width="2.0" height="2.7" fill="#b09040"/>
<rect x="86.6" y="661.6" width="3.8" height="1.2" fill="#3a3450"/>
<rect x="107.8" y="656.3" width="3.3" height="2.7" fill="#8a86a0"/>
<rect x="94.3" y="667.9" width="3.8" height="1.3" fill="#3a3450"/>
<rect x="58.6" y="665.8" width="3.6" height="2.8" fill="#1e1c2a"/>
<rect x="82.9" y="680.5" width="1.8" height="3.2" fill="#7a7a8a"/>
<rect x="77.1" y="651.5" width="3.5" height="1.9" fill="#2a2638"/>
<rect x="99.7" y="661.7" width="2.1" height="3.8" fill="#b09040"/>
<rect x="126.8" y="667.9" width="2.7" height="3.4" fill="#3a3450"/>
<rect x="69.9" y="677.0" width="2.0" height="3.1" fill="#7a7a8a"/>
<rect x="85.3" y="655.0" width="3.2" height="1.4" fill="#7a7a8a"/>
<rect x="71.3" y="675.3" width="3.6" height="3.2" fill="#5a5278"/>
<rect x="75.8" y="685.8" width="3.6" height="1.8" fill="#b09040"/>
<rect x="50.6" y="670.1" width="1.3" height="3.6" fill="#2a2638"/>
<rect x="65.0" y="675.2" width="3.6" height="1.2" fill="#8a86a0"/>
<rect x="75.1" y="689.2" width="1.6" height="1.4" fill="#3a3450"/>
<rect x="107.9" y="677.1" width="3.5" height="1.8" fill="#5a5278"/>
<rect x="60.9" y="689.1" width="2.4" height="3.4" fill="#8a86a0"/>
<rect x="68.5" y="652.6" width="1.5" height="4.0" fill="#8a86a0"/>
<rect x="124.7" y="682.4" width="2.9" height="2.6" fill="#3a3450"/>
<rect x="124.5" y="658.9" width="2.2" height="2.4" fill="#8a86a0"/>
<rect x="101.9" y="681.3" width="1.7" height="2.4" fill="#3a3450"/>
<rect x="89.9" y="658.2" width="1.8" height="2.6" fill="#2a2638"/>
<rect x="91.8" y="667.0" width="1.5" height="1.4" fill="#1e1c2a"/>
<rect x="85.1" y="689.2" width="2.7" height="1.3" fill="#1e1c2a"/>
<rect x="108.2" y="674.8" width="1.5" height="3.7" fill="#8a86a0"/>
<rect x="78.0" y="654.7" width="3.9" height="2.5" fill="#8a86a0"/>
<rect x="124.4" y="666.2" width="2.6" height="1.9" fill="#2a2638"/>
<rect x="73.1" y="669.2" width="3.9" height="2.4" fill="#8a86a0"/>
<rect x="92.5" y="689.8" width="3.1" height="2.1" fill="#7a7a8a"/>
<rect x="63.6" y="690.2" width="3.0" height="1.5" fill="#5a5278"/>
<rect x="95.8" y="662.6" width="3.9" height="1.7" fill="#b09040"/>
<rect x="53.1" y="650.4" width="2.7" height="1.6" fill="#b09040"/>
<rect x="100.3" y="681.6" width="1.7" height="1.3" fill="#8a86a0"/>
<rect x="121.2" y="691.7" width="3.0" height="3.1" fill="#2a2638"/>
<rect x="69.1" y="690.9" width="1.3" height="1.8" fill="#b09040"/>
<rect x="102.8" y="671.6" width="2.1" height="3.1" fill="#b09040"/>
<rect x="113.1" y="650.5" width="1.6" height="1.5" fill="#3a3450"/>
<rect x="65.7" y="658.8" width="1.4" height="2.8" fill="#7a7a8a"/>
<rect x="88.7" y="663.6" width="3.9" height="2.2" fill="#7a7a8a"/>
<rect x="50.1" y="675.1" width="3.1" height="2.3" fill="#3a3450"/>
<rect x="107.0" y="661.4" width="1.4" height="2.1" fill="#7a7a8a"/>
<rect x="49.7" y="651.1" width="1.2" height="2.3" fill="#b09040"/>
<rect x="99.6" y="656.8" width="3.2" height="2.7" fill="#8a86a0"/>
<rect x="120.6" y="665.5" width="2.6" height="1.5" fill="#5a5278"/>
<rect x="59.8" y="674.7" width="3.4" height="1.5" fill="#b09040"/>
<rect x="92.8" y="654.0" width="2.5" height="2.4" fill="#3a3450"/>
<rect x="49.2" y="652.4" width="2.3" height="1.7" fill="#3a3450"/>
<rect x="48.5" y="687.6" width="2.1" height="3.3" fill="#3a3450"/>
<rect x="85.7" y="666.3" width="2.0" height="3.3" fill="#5a5278"/>
<rect x="125.1" y="691.7" width="1.1" height="4.0" fill="#5a5278"/>
<rect x="121.0" y="675.4" width="1.5" height="1.2" fill="#2a2638"/>
<rect x="109.1" y="681.7" width="2.0" height="1.2" fill="#3a3450"/>
<rect x="72.4" y="671.5" width="3.8" height="1.7" fill="#5a5278"/>
<rect x="61.6" y="668.1" width="3.8" height="1.3" fill="#b09040"/>
<rect x="81.9" y="657.0" width="1.1" height="1.4" fill="#3a3450"/>
<rect x="106.1" y="681.2" width="3.5" height="3.4" fill="#8a86a0"/>
<rect x="88.0" y="664.1" width="1.3" height="3.2" fill="#7a7a8a"/>
<rect x="63.1" y="667.0" width="1.7" height="1.6" fill="#8a86a0"/>
<rect x="100.2" y="653.8" width="3.7" height="1.0" fill="#5a5278"/>
<rect x="100.3" y="654.2" width="2.2" height="2.6" fill="#8a86a0"/>
<rect x="126.5" y="664.1" width="1.8" height="3.0" fill="#5a5278"/>
<rect x="51.0" y="667.5" width="3.5" height="1.2" fill="#2a2638"/>
<rect x="53.6" y="672.8" width="4.0" height="3.8" fill="#2a2638"/>
<rect x="78.2" y="678.6" width="1.8" height="1.3" fill="#1e1c2a"/>
<rect x="92.5" y="668.8" width="1.2" height="2.8" fill="#1e1c2a"/>
<rect x="58.0" y="652.8" width="2.3" height="3.0" fill="#2a2638"/>
<rect x="103.1" y="674.3" width="3.9" height="1.1" fill="#7a7a8a"/>
<rect x="110.4" y="653.1" width="3.4" height="1.7" fill="#5a5278"/>
<rect x="94.1" y="680.4" width="2.0" height="3.1" fill="#8a86a0"/>
<rect x="80.1" y="684.8" width="1.5" height="2.3" fill="#5a5278"/>
<rect x="48.3" y="653.8" width="3.2" height="3.6" fill="#7a7a8a"/>
<rect x="119.7" y="677.7" width="1.8" height="1.4" fill="#3a3450"/>
<rect x="78.1" y="678.2" width="1.0" height="1.1" fill="#8a86a0"/>
<rect x="54.7" y="662.9" width="2.8" height="3.5" fill="#7a7a8a"/>
<rect x="110.1" y="686.3" width="2.8" height="3.9" fill="#7a7a8a"/>
<rect x="110.0" y="685.3" width="2.6" height="1.9" fill="#5a5278"/>
<rect x="86.2" y="664.2" width="2.1" height="2.5" fill="#b09040"/>
<rect x="126.2" y="676.0" width="3.0" height="1.4" fill="#2a2638"/>
<rect x="81.1" y="677.9" width="1.6" height="2.6" fill="#8a86a0"/>
<rect x="57.4" y="676.4" width="2.3" height="2.1" fill="#1e1c2a"/>
<rect x="67.7" y="688.9" width="2.5" height="2.1" fill="#8a86a0"/>
<rect x="71.2" y="684.9" width="1.1" height="1.8" fill="#8a86a0"/>
<rect x="105.8" y="658.9" width="2.4" height="2.1" fill="#8a86a0"/>
<rect x="83.9" y="653.6" width="2.1" height="3.0" fill="#3a3450"/>
<rect x="66.5" y="682.9" width="3.0" height="3.0" fill="#7a7a8a"/>
<rect x="76.9" y="650.7" width="2.6" height="2.0" fill="#1e1c2a"/>
<rect x="50.6" y="690.4" width="2.6" height="3.0" fill="#8a86a0"/>
<rect x="111.5" y="659.6" width="2.0" height="1.3" fill="#3a3450"/>
<rect x="106.2" y="657.8" width="1.3" height="1.6" fill="#1e1c2a"/>
<rect x="51.4" y="655.5" width="2.0" height="2.3" fill="#1e1c2a"/>
<rect x="70.8" y="656.5" width="1.5" height="2.9" fill="#7a7a8a"/>
<rect x="60.5" y="661.8" width="3.8" height="3.6" fill="#8a86a0"/>
<rect x="50.9" y="657.3" width="1.2" height="2.3" fill="#5a5278"/>
<rect x="109.0" y="665.7" width="1.4" height="3.7" fill="#1e1c2a"/>
<rect x="88.3" y="691.8" width="4.0" height="4.0" fill="#1e1c2a"/>
<rect x="78.8" y="665.9" width="1.0" height="2.1" fill="#3a3450"/>
<rect x="73.4" y="655.3" width="1.1" height="3.1" fill="#5a5278"/>
<rect x="49.6" y="678.3" width="2.8" height="1.9" fill="#5a5278"/>
<rect x="103.9" y="685.7" width="1.7" height="2.4" fill="#3a3450"/>
<rect x="93.4" y="663.5" width="1.1" height="2.0" fill="#7a7a8a"/>
<rect x="115.2" y="653.8" width="2.4" height="1.7" fill="#1e1c2a"/>
<rect x="72.6" y="667.5" width="2.1" height="3.7" fill="#2a2638"/>
<rect x="74.2" y="666.8" width="3.0" height="2.3" fill="#8a86a0"/>
<rect x="94.4" y="665.8" width="1.1" height="3.4" fill="#3a3450"/>
<rect x="72.0" y="669.7" width="3.1" height="2.4" fill="#2a2638"/>
<rect x="52.3" y="666.0" width="1.7" height="2.9" fill="#3a3450"/>
<rect x="95.3" y="669.7" width="3.9" height="1.5" fill="#2a2638"/>
<rect x="125.3" y="681.9" width="3.2" height="3.8" fill="#2a2638"/>
<rect x="72.5" y="686.6" width="3.1" height="1.2" fill="#2a2638"/>
<rect x="62.5" y="650.2" width="2.2" height="2.4" fill="#7a7a8a"/>
<rect x="75.5" y="665.5" width="3.1" height="1.3" fill="#b09040"/>
<rect x="87.0" y="665.6" width="3.6" height="1.6" fill="#1e1c2a"/>
<rect x="76.3" y="664.1" width="2.8" height="2.7" fill="#8a86a0"/>
<rect x="108.2" y="676.0" width="3.1" height="3.5" fill="#8a86a0"/>
<rect x="99.9" y="672.3" width="2.0" height="2.0" fill="#3a3450"/>
<rect x="57.0" y="656.8" width="1.1" height="3.7" fill="#5a5278"/>
<rect x="79.8" y="656.8" width="3.0" height="3.0" fill="#1e1c2a"/>
<rect x="76.5" y="660.9" width="1.5" height="3.1" fill="#5a5278"/>
<rect x="113.7" y="665.7" width="3.2" height="1.1" fill="#5a5278"/>
<rect x="118.1" y="663.5" width="2.2" height="1.1" fill="#b09040"/>
<rect x="85.3" y="658.3" width="1.5" height="2.9" fill="#7a7a8a"/>
<rect x="62.7" y="684.1" width="2.5" height="3.1" fill="#3a3450"/>
<rect x="61.6" y="671.4" width="1.9" height="2.7" fill="#5a5278"/>
<rect x="104.6" y="680.8" width="1.3" height="1.8" fill="#8a86a0"/>
<rect x="101.6" y="672.9" width="2.9" height="3.3" fill="#b09040"/>
<rect x="113.8" y="678.2" width="3.2" height="2.0" fill="#5a5278"/>
<rect x="107.5" y="665.3" width="2.3" height="3.9" fill="#3a3450"/>
<rect x="52.7" y="689.3" width="1.2" height="2.9" fill="#b09040"/>
<rect x="121.8" y="690.8" width="3.2" height="1.8" fill="#3a3450"/>
<rect x="53.5" y="688.0" width="3.8" height="1.1" fill="#b09040"/>
<rect x="118.3" y="668.5" width="3.5" height="3.1" fill="#b09040"/>
<rect x="66.9" y="657.7" width="1.9" height="2.9" fill="#b09040"/>
<rect x="50.1" y="664.1" width="1.2" height="1.2" fill="#b09040"/>
<rect x="104.8" y="652.1" width="3.1" height="3.0" fill="#8a86a0"/>
<rect x="120.7" y="688.0" width="3.6" height="4.0" fill="#1e1c2a"/>
<rect x="95.6" y="690.8" width="2.7" height="1.0" fill="#2a2638"/>
<rect x="105.8" y="659.6" width="1.3" height="3.8" fill="#b09040"/>
<rect x="86.2" y="675.2" width="3.7" height="2.1" fill="#b09040"/>
<rect x="84.7" y="683.0" width="2.4" height="1.6" fill="#5a5278"/>
<rect x="70.2" y="681.3" width="3.5" height="1.7" fill="#7a7a8a"/>
<rect x="72.1" y="651.9" width="1.3" height="2.3" fill="#3a3450"/>
<rect x="77.1" y="671.4" width="2.5" height="1.1" fill="#3a3450"/>
<rect x="108.5" y="683.5" width="3.1" height="2.2" fill="#5a5278"/>
<rect x="75.4" y="680.8" width="3.0" height="2.2" fill="#b09040"/>
<rect x="108.4" y="667.9" width="1.6" height="3.9" fill="#5a5278"/>
<rect x="110.2" y="658.3" width="3.2" height="2.1" fill="#3a3450"/>
<rect x="119.2" y="661.1" width="2.0" height="1.4" fill="#8a86a0"/>
<rect x="77.8" y="674.3" width="1.7" height="2.3" fill="#2a2638"/>
<rect x="116.9" y="662.7" width="3.4" height="1.4" fill="#b09040"/>
<rect x="95.5" y="676.3" width="1.4" height="3.3" fill="#8a86a0"/>
<rect x="101.1" y="654.0" width="3.9" height="2.3" fill="#1e1c2a"/>
<rect x="82.5" y="678.3" width="3.9" height="1.6" fill="#2a2638"/>
<rect x="60.3" y="657.2" width="3.7" height="2.0" fill="#7a7a8a"/>
<rect x="116.5" y="666.3" width="1.4" height="1.5" fill="#b09040"/>
<rect x="114.4" y="656.8" width="2.8" height="1.6" fill="#7a7a8a"/>
<rect x="87.8" y="685.1" width="1.1" height="3.8" fill="#5a5278"/>
<rect x="83.1" y="687.4" width="2.9" height="1.3" fill="#1e1c2a"/>
<rect x="65.2" y="682.8" width="1.9" height="3.2" fill="#5a5278"/>
<rect x="122.2" y="657.2" width="2.0" height="1.3" fill="#3a3450"/>
</g>
<polygon points="50,656 53,655.5 88,689 86,690" fill="#f0f0f0" />
<polygon points="86,690 127,682 127,685 88,693" fill="#e8e8e8" />
</g>

<text x="746.8" y="679.9" fill="#d8b0b0" font-size="22" textLength="138.5" lengthAdjust="spacingAndGlyphs">laprapdientu.vn</text>
<text x="746" y="679.2" fill="#ff0c0c" font-size="22" textLength="138.5" lengthAdjust="spacingAndGlyphs">laprapdientu.vn</text>

<polyline points="234.00,172.00 261.80,172.00" fill="none" stroke="#001a5c" stroke-width="3.8" stroke-linejoin="miter"/>
<polygon points="272.30,172.00 260.80,177.60 260.80,166.40" fill="#001a5c"/>
<polyline points="401.60,172.00 434.50,172.00" fill="none" stroke="#001a5c" stroke-width="3.8" stroke-linejoin="miter"/>
<polygon points="445.00,172.00 433.50,177.60 433.50,166.40" fill="#001a5c"/>
<polyline points="549.50,172.00 583.50,172.00" fill="none" stroke="#001a5c" stroke-width="3.8" stroke-linejoin="miter"/>
<polygon points="594.00,172.00 582.50,177.60 582.50,166.40" fill="#001a5c"/>
<polyline points="722.50,172.00 763.20,172.00" fill="none" stroke="#001a5c" stroke-width="3.8" stroke-linejoin="miter"/>
<polygon points="773.70,172.00 762.20,177.60 762.20,166.40" fill="#001a5c"/>
<polyline points="877.70,172.00 911.00,172.00 911.00,286.00 901.40,286.00" fill="none" stroke="#001a5c" stroke-width="3.8" stroke-linejoin="miter"/>
<polygon points="890.90,286.00 902.40,280.40 902.40,291.60" fill="#001a5c"/>
<polyline points="761.60,286.00 735.90,286.00" fill="none" stroke="#001a5c" stroke-width="3.8" stroke-linejoin="miter"/>
<polygon points="725.40,286.00 736.90,280.40 736.90,291.60" fill="#001a5c"/>
<polyline points="621.10,286.00 591.30,286.00" fill="none" stroke="#001a5c" stroke-width="3.8" stroke-linejoin="miter"/>
<polygon points="580.80,286.00 592.30,280.40 592.30,291.60" fill="#001a5c"/>
<polyline points="450.80,286.00 326.00,286.00 326.00,372.00 911.00,372.00 911.00,446.00 587.20,446.00" fill="none" stroke="#001a5c" stroke-width="3.8" stroke-linejoin="miter"/>
<polygon points="576.70,446.00 588.20,440.40 588.20,451.60" fill="#001a5c"/>
<polyline points="472.60,446.00 442.80,446.00" fill="none" stroke="#001a5c" stroke-width="3.8" stroke-linejoin="miter"/>
<polygon points="432.30,446.00 443.80,440.40 443.80,451.60" fill="#001a5c"/>
<polyline points="302.30,446.00 268.00,446.00" fill="none" stroke="#001a5c" stroke-width="3.8" stroke-linejoin="miter"/>
<polygon points="257.50,446.00 269.00,440.40 269.00,451.60" fill="#001a5c"/>
<polyline points="153.40,446.00 132.00,446.00 132.00,511.30 142.00,511.30" fill="none" stroke="#001a5c" stroke-width="3.8" stroke-linejoin="miter"/>
<polygon points="152.50,511.30 141.00,516.90 141.00,505.70" fill="#001a5c"/>
<polyline points="257.20,511.00 291.80,511.00" fill="none" stroke="#001a5c" stroke-width="3.8" stroke-linejoin="miter"/>
<polygon points="302.30,511.00 290.80,516.60 290.80,505.40" fill="#001a5c"/>
<polyline points="430.80,510.60 460.50,510.60" fill="none" stroke="#001a5c" stroke-width="3.8" stroke-linejoin="miter"/>
<polygon points="471.00,510.60 459.50,516.20 459.50,505.00" fill="#001a5c"/>
<polyline points="523.60,528.70 523.60,540.90" fill="none" stroke="#001a5c" stroke-width="3.8" stroke-linejoin="miter"/>
<polygon points="523.60,551.40 518.00,539.90 529.20,539.90" fill="#001a5c"/>
<polyline points="471.40,569.00 429.50,569.00" fill="none" stroke="#001a5c" stroke-width="3.8" stroke-linejoin="miter"/>
<polygon points="419.00,569.00 430.50,563.40 430.50,574.60" fill="#001a5c"/>
<polyline points="337.00,142.40 337.00,131.50 181.50,131.50 181.50,147.50" fill="none" stroke="#0b6fc4" stroke-width="1.5" stroke-linejoin="miter"/>
<polygon points="181.50,154.00 177.90,146.50 185.10,146.50" fill="#0b6fc4"/>
<polyline points="658.50,142.40 658.50,131.00 497.20,131.00 497.20,147.50" fill="none" stroke="#0b6fc4" stroke-width="1.5" stroke-linejoin="miter"/>
<polygon points="497.20,154.00 493.60,146.50 500.80,146.50" fill="#0b6fc4"/>
<polyline points="181.00,190.00 181.00,251.30 182.10,251.30" fill="none" stroke="#0b6fc4" stroke-width="1.5" stroke-linejoin="miter"/>
<polygon points="188.60,251.30 181.10,254.90 181.10,247.70" fill="#0b6fc4"/>
<polyline points="497.20,190.00 497.20,206.00 254.20,206.00 254.20,215.30" fill="none" stroke="#0b6fc4" stroke-width="1.5" stroke-linejoin="miter"/>
<polygon points="254.20,221.80 250.60,214.30 257.80,214.30" fill="#0b6fc4"/>
<polyline points="810.00,190.00 293.48,235.23" fill="none" stroke="#0b6fc4" stroke-width="1.5" stroke-linejoin="miter"/>
<polygon points="287.00,235.80 294.16,231.56 294.79,238.73" fill="#0b6fc4"/>
<polyline points="672.70,268.00 672.70,251.40 326.50,251.40" fill="none" stroke="#0b6fc4" stroke-width="1.5" stroke-linejoin="miter"/>
<polygon points="320.00,251.40 327.50,247.80 327.50,255.00" fill="#0b6fc4"/>
<polyline points="825.80,257.00 825.80,196.50" fill="none" stroke="#0b6fc4" stroke-width="1.5" stroke-linejoin="miter"/>
<polygon points="825.80,190.00 829.40,197.50 822.20,197.50" fill="#0b6fc4"/>
<polyline points="515.30,315.70 515.30,327.20 672.70,327.20 672.70,310.10" fill="none" stroke="#0b6fc4" stroke-width="1.5" stroke-linejoin="miter"/>
<polygon points="672.70,303.60 676.30,311.10 669.10,311.10" fill="#0b6fc4"/>
<polyline points="221.40,311.00 221.40,272.50" fill="none" stroke="#0b6fc4" stroke-width="1.5" stroke-linejoin="miter"/>
<polygon points="221.40,266.00 225.00,273.50 217.80,273.50" fill="#0b6fc4"/>
<polyline points="285.00,267.00 285.00,304.50" fill="none" stroke="#0b6fc4" stroke-width="1.5" stroke-linejoin="miter"/>
<polygon points="285.00,311.00 281.40,303.50 288.60,303.50" fill="#0b6fc4"/>
<polyline points="253.70,347.50 253.70,376.30" fill="none" stroke="#0b6fc4" stroke-width="1.5" stroke-linejoin="miter"/>
<polygon points="253.70,382.80 250.10,375.30 257.30,375.30" fill="#0b6fc4"/>
<polyline points="366.80,416.00 366.80,398.30 524.00,398.30 524.00,421.50" fill="none" stroke="#0b6fc4" stroke-width="1.5" stroke-linejoin="miter"/>
<polygon points="524.00,428.00 520.40,420.50 527.60,420.50" fill="#0b6fc4"/>
<polyline points="575.80,510.50 605.30,510.50" fill="none" stroke="#0b6fc4" stroke-width="1.5" stroke-linejoin="miter"/>
<polygon points="611.80,510.50 604.30,514.10 604.30,506.90" fill="#0b6fc4"/>
<polyline points="646.00,569.50 646.00,531.50" fill="none" stroke="#0b6fc4" stroke-width="1.5" stroke-linejoin="miter"/>
<polygon points="646.00,525.00 649.60,532.50 642.40,532.50" fill="#0b6fc4"/>
<polyline points="705.60,527.00 705.60,563.00" fill="none" stroke="#0b6fc4" stroke-width="1.5" stroke-linejoin="miter"/>
<polygon points="705.60,569.50 702.00,562.00 709.20,562.00" fill="#0b6fc4"/>
<polyline points="727.40,588.00 767.80,588.00" fill="none" stroke="#0b6fc4" stroke-width="1.5" stroke-linejoin="miter"/>
<polygon points="774.30,588.00 766.80,591.60 766.80,584.40" fill="#0b6fc4"/>
<polyline points="205.20,529.00 205.20,572.00" fill="none" stroke="#0b6fc4" stroke-width="1.5" stroke-linejoin="miter"/>
<polygon points="205.20,578.50 201.60,571.00 208.80,571.00" fill="#0b6fc4"/>
<polyline points="314.20,567.80 237.79,587.57" fill="none" stroke="#0b6fc4" stroke-width="1.5" stroke-linejoin="miter"/>
<polygon points="231.50,589.20 237.86,583.84 239.66,590.81" fill="#0b6fc4"/>
<polyline points="247.00,618.40 307.70,618.40" fill="none" stroke="#0b6fc4" stroke-width="1.5" stroke-linejoin="miter"/>
<polygon points="314.20,618.40 306.70,622.00 306.70,614.80" fill="#0b6fc4"/>
<polyline points="314.20,631.40 224.10,631.40" fill="none" stroke="#0b6fc4" stroke-width="1.5" stroke-linejoin="miter"/>
<polygon points="217.60,631.40 225.10,627.80 225.10,635.00" fill="#0b6fc4"/>
<polyline points="418.70,626.40 464.90,626.40" fill="none" stroke="#0b6fc4" stroke-width="1.5" stroke-linejoin="miter"/>
<polygon points="471.40,626.40 463.90,630.00 463.90,622.80" fill="#0b6fc4"/>
<rect x="129" y="154" width="104.60" height="36.00" fill="none" stroke="#0b6fc4" stroke-width="1.45"/>
<rect x="445" y="153.6" width="104.40" height="36.60" fill="none" stroke="#0b6fc4" stroke-width="1.45"/>
<rect x="773.7" y="153.6" width="104.00" height="36.30" fill="none" stroke="#0b6fc4" stroke-width="1.45"/>
<rect x="621.1" y="267.6" width="104.30" height="36.00" fill="none" stroke="#0b6fc4" stroke-width="1.45"/>
<rect x="201.5" y="311" width="104.10" height="36.60" fill="none" stroke="#0b6fc4" stroke-width="1.45"/>
<rect x="201.5" y="382.6" width="104.10" height="36.20" fill="none" stroke="#0b6fc4" stroke-width="1.45"/>
<rect x="153.4" y="428" width="104.10" height="36.00" fill="none" stroke="#0b6fc4" stroke-width="1.45"/>
<rect x="472.6" y="427.8" width="104.10" height="36.00" fill="none" stroke="#0b6fc4" stroke-width="1.45"/>
<rect x="152.5" y="492.8" width="104.70" height="36.00" fill="none" stroke="#0b6fc4" stroke-width="1.45"/>
<rect x="471" y="492.4" width="104.80" height="36.20" fill="none" stroke="#0b6fc4" stroke-width="1.45"/>
<rect x="471.4" y="551.4" width="104.20" height="35.60" fill="none" stroke="#0b6fc4" stroke-width="1.45"/>
<rect x="314.2" y="551" width="104.50" height="36.30" fill="none" stroke="#0b6fc4" stroke-width="1.45"/>
<rect x="314.2" y="608.7" width="104.50" height="35.70" fill="none" stroke="#0b6fc4" stroke-width="1.45"/>
<rect x="471.4" y="608.6" width="104.80" height="36.20" fill="none" stroke="#0b6fc4" stroke-width="1.45"/>
<rect x="623.5" y="569.5" width="103.90" height="36.90" fill="none" stroke="#0b6fc4" stroke-width="1.45"/>
<rect x="774.3" y="569.5" width="104.60" height="36.90" fill="none" stroke="#0b6fc4" stroke-width="1.45"/>
<polygon points="272.3,171.8 337,142.3 401.7,171.8 337,201.3" fill="none" stroke="#0b6fc4" stroke-width="1.4"/>
<polygon points="594.0,171.7 658.3,142.39999999999998 722.5999999999999,171.7 658.3,201.0" fill="none" stroke="#0b6fc4" stroke-width="1.4"/>
<polygon points="188.39999999999998,251.3 254.1,221.8 319.8,251.3 254.1,280.8" fill="none" stroke="#0b6fc4" stroke-width="1.4"/>
<polygon points="450.79999999999995,285.8 515.8,255.8 580.8,285.8 515.8,315.8" fill="none" stroke="#0b6fc4" stroke-width="1.4"/>
<polygon points="761.6,286 826.2,257 890.8000000000001,286 826.2,315" fill="none" stroke="#0b6fc4" stroke-width="1.4"/>
<polygon points="302.3,445.6 367.3,416.1 432.3,445.6 367.3,475.1" fill="none" stroke="#0b6fc4" stroke-width="1.4"/>
<polygon points="302.3,510.6 366.5,481.40000000000003 430.7,510.6 366.5,539.8000000000001" fill="none" stroke="#0b6fc4" stroke-width="1.4"/>
<polygon points="611.7,509.7 676.6,480.0 741.5,509.7 676.6,539.4" fill="none" stroke="#0b6fc4" stroke-width="1.4"/>
<polygon points="141.3,607.7 204.6,578.5 267.9,607.7 204.6,636.9000000000001" fill="none" stroke="#0b6fc4" stroke-width="1.4"/>
<text x="180.20" y="178.40" fill="#0000ff" font-size="15.6" text-anchor="middle" font-weight="normal" font-style="normal" textLength="40.90" lengthAdjust="spacing">Eyelet</text>
<text x="496.10" y="178.20" fill="#0000ff" font-size="15.6" text-anchor="middle" font-weight="normal" font-style="normal" textLength="18.70" lengthAdjust="spacingAndGlyphs">JW</text>
<text x="825.40" y="178.30" fill="#0000ff" font-size="15.6" text-anchor="middle" font-weight="normal" font-style="normal" textLength="16.90" lengthAdjust="spacingAndGlyphs">AX</text>
<text x="673.00" y="291.90" fill="#0000ff" font-size="15.6" text-anchor="middle" font-weight="normal" font-style="normal" textLength="19.50" lengthAdjust="spacingAndGlyphs">RH</text>
<text x="253.70" y="335.70" fill="#0000ff" font-size="15.6" text-anchor="middle" font-weight="normal" font-style="normal" textLength="45.90" lengthAdjust="spacingAndGlyphs">RP/RW</text>
<text x="253.50" y="406.70" fill="#0e8f8f" font-size="15.6" text-anchor="middle" font-weight="normal" font-style="normal" textLength="55.10" lengthAdjust="spacing">Disposal</text>
<text x="205.50" y="451.80" fill="#0000ff" font-size="15.6" text-anchor="middle" font-weight="normal" font-style="normal" textLength="41.30" lengthAdjust="spacing">Fluxer</text>
<text x="523.90" y="451.80" fill="#0000ff" font-size="15.6" text-anchor="middle" font-weight="normal" font-style="normal" textLength="82.70" lengthAdjust="spacing">Hand mount</text>
<text x="205.50" y="517.30" fill="#0000ff" font-size="15.6" text-anchor="middle" font-weight="normal" font-style="normal" textLength="100.90" lengthAdjust="spacing">Wave soldering</text>
<text x="523.70" y="516.80" fill="#0000ff" font-size="15.6" text-anchor="middle" font-weight="normal" font-style="normal" textLength="61.10" lengthAdjust="spacing">Touch-up</text>
<text x="523.20" y="575.50" fill="#0000ff" font-size="15.6" text-anchor="middle" font-weight="normal" font-style="normal" textLength="55.30" lengthAdjust="spacingAndGlyphs">ICT/FCT</text>
<text x="366.40" y="575.50" fill="#0000ff" font-size="15.6" text-anchor="middle" font-weight="normal" font-style="normal" textLength="62.10" lengthAdjust="spacing">Assembly</text>
<text x="366.00" y="632.80" fill="#0000ff" font-size="15.6" text-anchor="middle" font-weight="normal" font-style="normal" textLength="45.90" lengthAdjust="spacingAndGlyphs">RP/RW</text>
<text x="523.80" y="632.90" fill="#0e8f8f" font-size="15.6" text-anchor="middle" font-weight="normal" font-style="normal" textLength="56.10" lengthAdjust="spacing">Disposal</text>
<text x="675.00" y="594.30" fill="#0000ff" font-size="15.6" text-anchor="middle" font-weight="normal" font-style="normal" textLength="45.90" lengthAdjust="spacingAndGlyphs">RP/RW</text>
<text x="826.70" y="594.30" fill="#0e8f8f" font-size="15.6" text-anchor="middle" font-weight="normal" font-style="normal" textLength="55.10" lengthAdjust="spacing">Disposal</text>
<text x="336.80" y="178.20" fill="#0000ff" font-size="15.6" text-anchor="middle" font-weight="normal" font-style="normal" textLength="69.90" lengthAdjust="spacing">Inspection</text>
<text x="657.50" y="178.10" fill="#0000ff" font-size="15.6" text-anchor="middle" font-weight="normal" font-style="normal" textLength="69.90" lengthAdjust="spacing">Inspection</text>
<text x="253.70" y="257.00" fill="#0000ff" font-size="15.6" text-anchor="middle" font-weight="normal" font-style="normal" textLength="39.90" lengthAdjust="spacing">Check</text>
<text x="515.10" y="292.10" fill="#0000ff" font-size="15.6" text-anchor="middle" font-weight="normal" font-style="normal" textLength="69.90" lengthAdjust="spacing">Inspection</text>
<text x="825.90" y="292.30" fill="#0000ff" font-size="15.6" text-anchor="middle" font-weight="normal" font-style="normal" textLength="69.90" lengthAdjust="spacing">Inspection</text>
<text x="367.10" y="451.90" fill="#0000ff" font-size="15.6" text-anchor="middle" font-weight="normal" font-style="normal" textLength="69.90" lengthAdjust="spacing">Inspection</text>
<text x="366.50" y="516.90" fill="#0000ff" font-size="15.6" text-anchor="middle" font-weight="normal" font-style="normal" textLength="69.90" lengthAdjust="spacing">Inspection</text>
<text x="676.20" y="515.40" fill="#0000ff" font-size="15.6" text-anchor="middle" font-weight="normal" font-style="normal" textLength="38.90" lengthAdjust="spacing">Check</text>
<text x="204.20" y="613.40" fill="#0000ff" font-size="15.6" text-anchor="middle" font-weight="normal" font-style="normal" textLength="38.90" lengthAdjust="spacing">Check</text>
<text x="247.20" y="147.60" fill="#0e8f8f" font-size="15.6" text-anchor="middle" font-weight="normal" font-style="normal" textLength="20.10" lengthAdjust="spacingAndGlyphs">NG</text>
<text x="566.30" y="147.60" fill="#0e8f8f" font-size="15.6" text-anchor="middle" font-weight="normal" font-style="normal" textLength="19.50" lengthAdjust="spacingAndGlyphs">NG</text>
<text x="255.70" y="296.80" fill="#0e8f8f" font-size="15.6" text-anchor="middle" font-weight="normal" font-style="normal" textLength="19.90" lengthAdjust="spacingAndGlyphs">NG</text>
<text x="852.90" y="234.60" fill="#0e8f8f" font-size="15.6" text-anchor="middle" font-weight="normal" font-style="normal" textLength="20.30" lengthAdjust="spacingAndGlyphs">NG</text>
<text x="583.20" y="325.80" fill="#0e8f8f" font-size="15.6" text-anchor="middle" font-weight="normal" font-style="normal" textLength="20.50" lengthAdjust="spacingAndGlyphs">NG</text>
<text x="225.40" y="370.20" fill="#0e8f8f" font-size="15.6" text-anchor="middle" font-weight="normal" font-style="normal" textLength="20.10" lengthAdjust="spacingAndGlyphs">NG</text>
<text x="433.30" y="414.00" fill="#0e8f8f" font-size="15.6" text-anchor="middle" font-weight="normal" font-style="normal" textLength="20.30" lengthAdjust="spacingAndGlyphs">NG</text>
<text x="677.20" y="554.20" fill="#0e8f8f" font-size="15.6" text-anchor="middle" font-weight="normal" font-style="normal" textLength="21.30" lengthAdjust="spacingAndGlyphs">NG</text>
<text x="740.90" y="586.00" fill="#0e8f8f" font-size="15.6" text-anchor="middle" font-weight="normal" font-style="normal" textLength="19.90" lengthAdjust="spacingAndGlyphs">NG</text>
<text x="275.10" y="617.20" fill="#0e8f8f" font-size="15.6" text-anchor="middle" font-weight="normal" font-style="normal" textLength="20.70" lengthAdjust="spacingAndGlyphs">NG</text>
<text x="434.90" y="625.20" fill="#0e8f8f" font-size="15.6" text-anchor="middle" font-weight="normal" font-style="normal" textLength="21.10" lengthAdjust="spacingAndGlyphs">NG</text>
<text x="105.30" y="173.60" fill="#ff0000" font-size="16" text-anchor="middle" font-weight="bold" font-style="normal" stroke="#ff0000" stroke-width="0.5" textLength="36.70" lengthAdjust="spacing">Start</text>
<text x="285.50" y="565.80" fill="#ff0000" font-size="16" text-anchor="middle" font-weight="bold" font-style="normal" stroke="#ff0000" stroke-width="0.5" textLength="27.10" lengthAdjust="spacing">End</text>
</svg>
</body></html>
